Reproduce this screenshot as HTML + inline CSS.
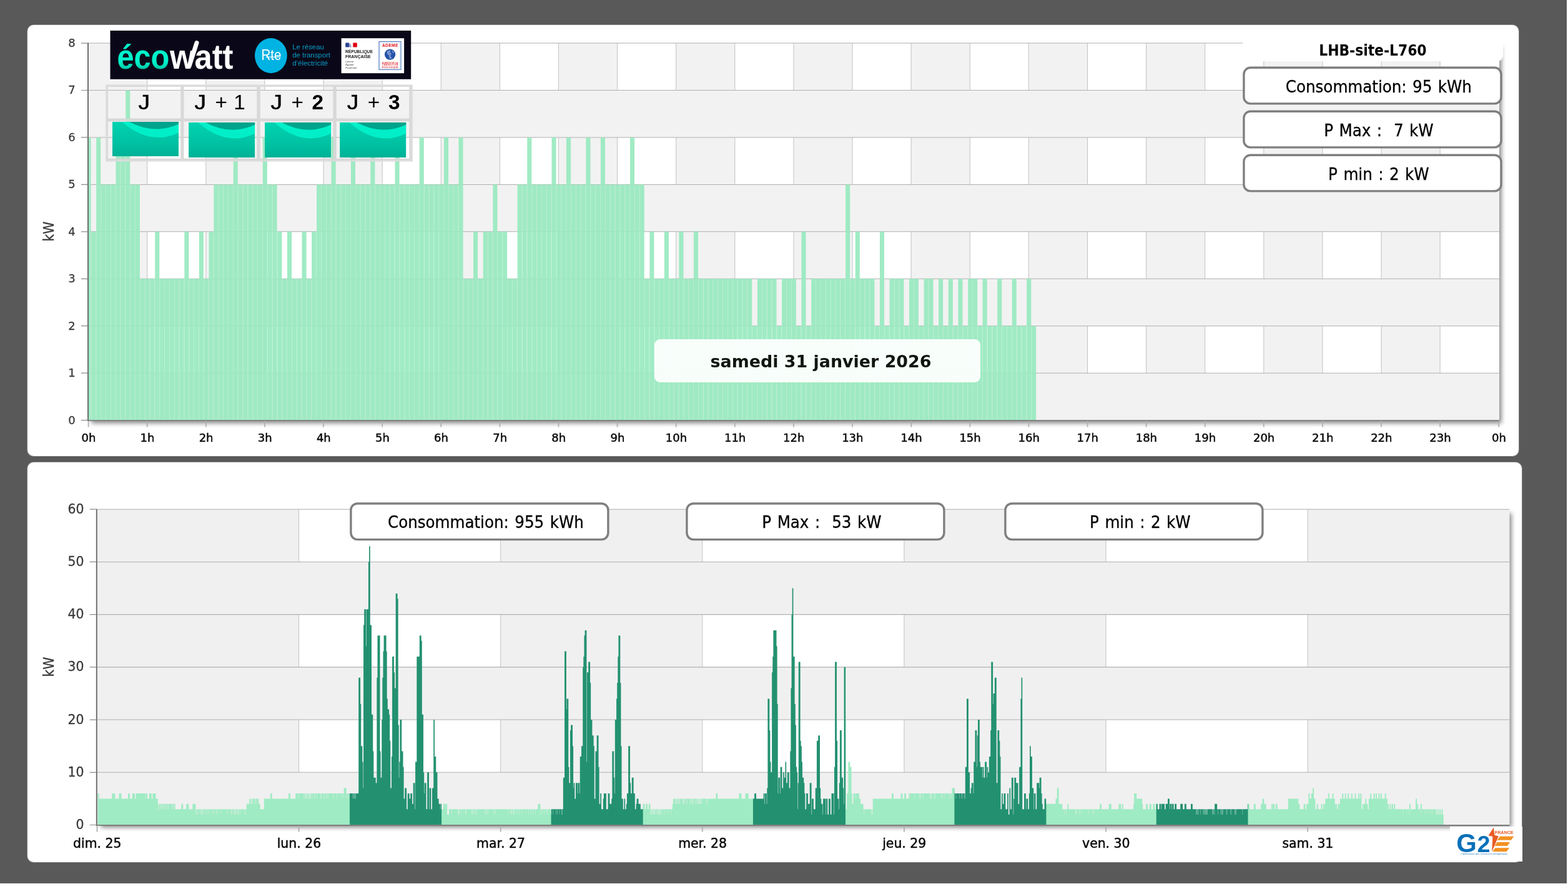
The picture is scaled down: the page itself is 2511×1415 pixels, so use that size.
<!DOCTYPE html>
<html lang="fr"><head><meta charset="utf-8"><title>LHB-site-L760</title>
<style>
*{box-sizing:border-box}
html,body{margin:0;padding:0;background:#fff}
body{width:2511px;height:1415px;position:relative;overflow:hidden;font-family:'DejaVu Sans','Liberation Sans',sans-serif}
.bg{position:absolute;left:0;top:0;width:2509px;height:1413.5px;background:#595959}
.panel{position:absolute;background:#fff;border-radius:10px;box-shadow:0 0 0 .8px rgba(255,255,255,.28)}
#p1{left:43.6px;top:39.6px;width:2388.2px;height:690.7px}
#p2{left:43.6px;top:739.8px;width:2393.2px;height:640.7px}
.plotshadow{position:absolute;box-shadow:3.5px 3.5px 7px rgba(0,0,0,.47)}
svg{position:absolute;left:0;top:0}
.kpi{position:absolute;width:415.4px;height:61px;
 font-family:'DejaVu Sans Condensed','Liberation Sans',sans-serif;font-size:27.3px;word-spacing:1.7px;color:#000;text-align:center;line-height:63.6px;padding-left:20px;white-space:pre;-webkit-text-stroke:.3px #000}
.site{position:absolute;left:1990px;top:55px;width:416.8px;height:43px;background:#fff;border-bottom-right-radius:9px;
 font-family:'DejaVu Sans Condensed','Liberation Sans',sans-serif;font-weight:bold;font-size:24.3px;color:#000;text-align:center;line-height:51.2px;white-space:pre}
.date{position:absolute;left:1048px;top:542.5px;width:522px;height:69.4px;border-radius:9px;background:rgba(255,255,255,.92);
 font-family:'DejaVu Sans','Liberation Sans',sans-serif;font-weight:bold;font-size:26.9px;color:#10150f;text-align:center;line-height:71px;padding-left:11px;white-space:pre}
.logo{position:absolute;left:2322.2px;top:1322.6px;width:115.7px;height:56.8px;background:#fff}
</style></head><body>
<div class="bg"></div>
<div class="panel" id="p1"></div><div class="panel" id="p2"></div>
<div class="plotshadow" style="left:142px;top:71px;width:2259px;height:602.6px"></div>
<div class="plotshadow" style="left:156.5px;top:817.2px;width:2260.7px;height:504.3px"></div>
<svg width="2511" height="1415" viewBox="0 0 2511 1415">
<g id="chart-day">
<rect x="141" y="69" width="2260" height="603.6" fill="#fff"/>
<rect x="141.6" y="69" width="94.11" height="603.6" fill="#f2f2f2"/>
<rect x="329.82" y="69" width="94.11" height="603.6" fill="#f2f2f2"/>
<rect x="518.04" y="69" width="94.11" height="603.6" fill="#f2f2f2"/>
<rect x="706.26" y="69" width="94.11" height="603.6" fill="#f2f2f2"/>
<rect x="894.48" y="69" width="94.11" height="603.6" fill="#f2f2f2"/>
<rect x="1082.7" y="69" width="94.11" height="603.6" fill="#f2f2f2"/>
<rect x="1270.92" y="69" width="94.11" height="603.6" fill="#f2f2f2"/>
<rect x="1459.14" y="69" width="94.11" height="603.6" fill="#f2f2f2"/>
<rect x="1647.36" y="69" width="94.11" height="603.6" fill="#f2f2f2"/>
<rect x="1835.58" y="69" width="94.11" height="603.6" fill="#f2f2f2"/>
<rect x="2023.8" y="69" width="94.11" height="603.6" fill="#f2f2f2"/>
<rect x="2212.02" y="69" width="94.11" height="603.6" fill="#f2f2f2"/>
<path d="M235.71 69V672.6M329.82 69V672.6M423.93 69V672.6M518.04 69V672.6M612.15 69V672.6M706.26 69V672.6M800.37 69V672.6M894.48 69V672.6M988.59 69V672.6M1082.7 69V672.6M1176.81 69V672.6M1270.92 69V672.6M1365.03 69V672.6M1459.14 69V672.6M1553.25 69V672.6M1647.36 69V672.6M1741.47 69V672.6M1835.58 69V672.6M1929.69 69V672.6M2023.8 69V672.6M2117.91 69V672.6M2212.02 69V672.6M2306.13 69V672.6" stroke="#c4c4c4" stroke-width="1.05" fill="none"/>
<rect x="141" y="144.52" width="2260" height="75.44" fill="#f2f2f2"/>
<rect x="141" y="295.4" width="2260" height="75.44" fill="#f2f2f2"/>
<rect x="141" y="446.28" width="2260" height="75.44" fill="#f2f2f2"/>
<rect x="141" y="597.16" width="2260" height="75.44" fill="#f2f2f2"/>
<path d="M141 597.16H2401M141 521.72H2401M141 446.28H2401M141 370.84H2401M141 295.4H2401M141 219.96H2401M141 144.52H2401M141 69.08H2401" stroke="#b0b0b0" stroke-width="1.05" fill="none"/>
<path d="M142 672.6V219.96H145.55V672.6ZM146.3 672.6V370.84H153.39V672.6ZM154.14 672.6V219.96H161.23V672.6ZM161.98 672.6V295.4H169.07V672.6ZM169.82 672.6V295.4H176.92V672.6ZM177.67 672.6V295.4H184.76V672.6ZM185.51 672.6V219.96H192.6V672.6ZM193.35 672.6V219.96H200.44V672.6ZM201.19 672.6V144.52H208.29V672.6ZM209.04 672.6V295.4H216.13V672.6ZM216.88 672.6V295.4H223.97V672.6ZM224.72 672.6V446.28H231.81V672.6ZM232.56 672.6V446.28H239.66V672.6ZM240.41 672.6V446.28H247.5V672.6ZM248.25 672.6V370.84H255.34V672.6ZM256.09 672.6V446.28H263.18V672.6ZM263.93 672.6V446.28H271.03V672.6ZM271.78 672.6V446.28H278.87V672.6ZM279.62 672.6V446.28H286.71V672.6ZM287.46 672.6V446.28H294.55V672.6ZM295.3 672.6V370.84H302.4V672.6ZM303.15 672.6V446.28H310.24V672.6ZM310.99 672.6V446.28H318.08V672.6ZM318.83 672.6V370.84H325.92V672.6ZM326.67 672.6V446.28H333.77V672.6ZM334.52 672.6V370.84H341.61V672.6ZM342.36 672.6V295.4H349.45V672.6ZM350.2 672.6V295.4H357.29V672.6ZM358.04 672.6V295.4H365.14V672.6ZM365.89 672.6V295.4H372.98V672.6ZM373.73 672.6V219.96H380.82V672.6ZM381.57 672.6V295.4H388.66V672.6ZM389.41 672.6V295.4H396.51V672.6ZM397.26 672.6V295.4H404.35V672.6ZM405.1 672.6V295.4H412.19V672.6ZM412.94 672.6V295.4H420.03V672.6ZM420.78 672.6V219.96H427.88V672.6ZM428.63 672.6V295.4H435.72V672.6ZM436.47 672.6V295.4H443.56V672.6ZM444.31 672.6V370.84H451.4V672.6ZM452.15 672.6V446.28H459.25V672.6ZM460 672.6V370.84H467.09V672.6ZM467.84 672.6V446.28H474.93V672.6ZM475.68 672.6V446.28H482.77V672.6ZM483.52 672.6V370.84H490.62V672.6ZM491.37 672.6V446.28H498.46V672.6ZM499.21 672.6V370.84H506.3V672.6ZM507.05 672.6V295.4H514.14V672.6ZM514.89 672.6V295.4H521.99V672.6ZM522.74 672.6V295.4H529.83V672.6ZM530.58 672.6V219.96H537.67V672.6ZM538.42 672.6V295.4H545.51V672.6ZM546.26 672.6V295.4H553.36V672.6ZM554.11 672.6V295.4H561.2V672.6ZM561.95 672.6V219.96H569.04V672.6ZM569.79 672.6V295.4H576.88V672.6ZM577.63 672.6V295.4H584.73V672.6ZM585.48 672.6V295.4H592.57V672.6ZM593.32 672.6V219.96H600.41V672.6ZM601.16 672.6V295.4H608.25V672.6ZM609 672.6V295.4H616.1V672.6ZM616.85 672.6V295.4H623.94V672.6ZM624.69 672.6V295.4H631.78V672.6ZM632.53 672.6V219.96H639.62V672.6ZM640.37 672.6V295.4H647.47V672.6ZM648.22 672.6V295.4H655.31V672.6ZM656.06 672.6V295.4H663.15V672.6ZM663.9 672.6V295.4H670.99V672.6ZM671.74 672.6V219.96H678.84V672.6ZM679.59 672.6V295.4H686.68V672.6ZM687.43 672.6V295.4H694.52V672.6ZM695.27 672.6V295.4H702.36V672.6ZM703.11 672.6V295.4H710.21V672.6ZM710.96 672.6V219.96H718.05V672.6ZM718.8 672.6V295.4H725.89V672.6ZM726.64 672.6V295.4H733.73V672.6ZM734.48 672.6V219.96H741.58V672.6ZM742.33 672.6V446.28H749.42V672.6ZM750.17 672.6V446.28H757.26V672.6ZM758.01 672.6V370.84H765.1V672.6ZM765.85 672.6V446.28H772.95V672.6ZM773.7 672.6V370.84H780.79V672.6ZM781.54 672.6V370.84H788.63V672.6ZM789.38 672.6V295.4H796.47V672.6ZM797.22 672.6V370.84H804.32V672.6ZM805.07 672.6V370.84H812.16V672.6ZM812.91 672.6V446.28H820V672.6ZM820.75 672.6V446.28H827.84V672.6ZM828.59 672.6V295.4H835.69V672.6ZM836.44 672.6V295.4H843.53V672.6ZM844.28 672.6V219.96H851.37V672.6ZM852.12 672.6V295.4H859.21V672.6ZM859.96 672.6V295.4H867.06V672.6ZM867.81 672.6V295.4H874.9V672.6ZM875.65 672.6V295.4H882.74V672.6ZM883.49 672.6V219.96H890.58V672.6ZM891.33 672.6V295.4H898.43V672.6ZM899.18 672.6V295.4H906.27V672.6ZM907.02 672.6V219.96H914.11V672.6ZM914.86 672.6V295.4H921.95V672.6ZM922.7 672.6V295.4H929.8V672.6ZM930.55 672.6V295.4H937.64V672.6ZM938.39 672.6V219.96H945.48V672.6ZM946.23 672.6V295.4H953.32V672.6ZM954.07 672.6V295.4H961.17V672.6ZM961.92 672.6V219.96H969.01V672.6ZM969.76 672.6V295.4H976.85V672.6ZM977.6 672.6V295.4H984.69V672.6ZM985.44 672.6V295.4H992.54V672.6ZM993.29 672.6V295.4H1000.38V672.6ZM1001.13 672.6V295.4H1008.22V672.6ZM1008.97 672.6V219.96H1016.06V672.6ZM1016.81 672.6V295.4H1023.91V672.6ZM1024.66 672.6V295.4H1031.75V672.6ZM1032.5 672.6V446.28H1039.59V672.6ZM1040.34 672.6V370.84H1047.43V672.6ZM1048.18 672.6V446.28H1055.28V672.6ZM1056.03 672.6V446.28H1063.12V672.6ZM1063.87 672.6V370.84H1070.96V672.6ZM1071.71 672.6V446.28H1078.8V672.6ZM1079.55 672.6V446.28H1086.65V672.6ZM1087.4 672.6V370.84H1094.49V672.6ZM1095.24 672.6V446.28H1102.33V672.6ZM1103.08 672.6V446.28H1110.17V672.6ZM1110.92 672.6V370.84H1118.02V672.6ZM1118.77 672.6V446.28H1125.86V672.6ZM1126.61 672.6V446.28H1133.7V672.6ZM1134.45 672.6V446.28H1141.54V672.6ZM1142.29 672.6V446.28H1149.39V672.6ZM1150.14 672.6V446.28H1157.23V672.6ZM1157.98 672.6V446.28H1165.07V672.6ZM1165.82 672.6V446.28H1172.91V672.6ZM1173.66 672.6V446.28H1180.76V672.6ZM1181.51 672.6V446.28H1188.6V672.6ZM1189.35 672.6V446.28H1196.44V672.6ZM1197.19 672.6V446.28H1204.28V672.6ZM1205.03 672.6V521.72H1212.13V672.6ZM1212.88 672.6V446.28H1219.97V672.6ZM1220.72 672.6V446.28H1227.81V672.6ZM1228.56 672.6V446.28H1235.65V672.6ZM1236.4 672.6V446.28H1243.5V672.6ZM1244.25 672.6V521.72H1251.34V672.6ZM1252.09 672.6V446.28H1259.18V672.6ZM1259.93 672.6V446.28H1267.02V672.6ZM1267.77 672.6V446.28H1274.87V672.6ZM1275.62 672.6V521.72H1282.71V672.6ZM1283.46 672.6V370.84H1290.55V672.6ZM1291.3 672.6V521.72H1298.39V672.6ZM1299.14 672.6V446.28H1306.24V672.6ZM1306.99 672.6V446.28H1314.08V672.6ZM1314.83 672.6V446.28H1321.92V672.6ZM1322.67 672.6V446.28H1329.76V672.6ZM1330.51 672.6V446.28H1337.61V672.6ZM1338.36 672.6V446.28H1345.45V672.6ZM1346.2 672.6V446.28H1353.29V672.6ZM1354.04 672.6V295.4H1361.13V672.6ZM1361.88 672.6V446.28H1368.98V672.6ZM1369.73 672.6V370.84H1376.82V672.6ZM1377.57 672.6V446.28H1384.66V672.6ZM1385.41 672.6V446.28H1392.5V672.6ZM1393.25 672.6V446.28H1400.35V672.6ZM1401.1 672.6V521.72H1408.19V672.6ZM1408.94 672.6V370.84H1416.03V672.6ZM1416.78 672.6V521.72H1423.87V672.6ZM1424.62 672.6V446.28H1431.72V672.6ZM1432.47 672.6V446.28H1439.56V672.6ZM1440.31 672.6V446.28H1447.4V672.6ZM1448.15 672.6V521.72H1455.24V672.6ZM1455.99 672.6V446.28H1463.09V672.6ZM1463.84 672.6V446.28H1470.93V672.6ZM1471.68 672.6V521.72H1478.77V672.6ZM1479.52 672.6V446.28H1486.61V672.6ZM1487.36 672.6V446.28H1494.46V672.6ZM1495.21 672.6V521.72H1502.3V672.6ZM1503.05 672.6V446.28H1510.14V672.6ZM1510.89 672.6V521.72H1517.98V672.6ZM1518.73 672.6V446.28H1525.83V672.6ZM1526.58 672.6V521.72H1533.67V672.6ZM1534.42 672.6V446.28H1541.51V672.6ZM1542.26 672.6V521.72H1549.35V672.6ZM1550.1 672.6V446.28H1557.2V672.6ZM1557.95 672.6V446.28H1565.04V672.6ZM1565.79 672.6V521.72H1572.88V672.6ZM1573.63 672.6V446.28H1580.72V672.6ZM1581.47 672.6V521.72H1588.57V672.6ZM1589.32 672.6V521.72H1596.41V672.6ZM1597.16 672.6V446.28H1604.25V672.6ZM1605 672.6V521.72H1612.09V672.6ZM1612.84 672.6V521.72H1619.94V672.6ZM1620.69 672.6V446.28H1627.78V672.6ZM1628.53 672.6V521.72H1635.62V672.6ZM1636.37 672.6V521.72H1643.46V672.6ZM1644.21 672.6V446.28H1651.31V672.6ZM1652.06 672.6V521.72H1659.15V672.6Z" fill="#99e9bf" fill-opacity=".93"/>
<path d="M145.32 672.6V370.84H146.52V672.6ZM153.16 672.6V370.84H154.36V672.6ZM161.01 672.6V295.4H162.21V672.6ZM168.85 672.6V295.4H170.05V672.6ZM176.69 672.6V295.4H177.89V672.6ZM184.53 672.6V295.4H185.73V672.6ZM192.38 672.6V219.96H193.58V672.6ZM200.22 672.6V219.96H201.42V672.6ZM208.06 672.6V295.4H209.26V672.6ZM215.9 672.6V295.4H217.1V672.6ZM223.75 672.6V446.28H224.95V672.6ZM231.59 672.6V446.28H232.79V672.6ZM239.43 672.6V446.28H240.63V672.6ZM247.27 672.6V446.28H248.47V672.6ZM255.12 672.6V446.28H256.32V672.6ZM262.96 672.6V446.28H264.16V672.6ZM270.8 672.6V446.28H272V672.6ZM278.64 672.6V446.28H279.84V672.6ZM286.49 672.6V446.28H287.69V672.6ZM294.33 672.6V446.28H295.53V672.6ZM302.17 672.6V446.28H303.37V672.6ZM310.01 672.6V446.28H311.21V672.6ZM317.86 672.6V446.28H319.06V672.6ZM325.7 672.6V446.28H326.9V672.6ZM333.54 672.6V446.28H334.74V672.6ZM341.38 672.6V370.84H342.58V672.6ZM349.23 672.6V295.4H350.43V672.6ZM357.07 672.6V295.4H358.27V672.6ZM364.91 672.6V295.4H366.11V672.6ZM372.75 672.6V295.4H373.95V672.6ZM380.6 672.6V295.4H381.8V672.6ZM388.44 672.6V295.4H389.64V672.6ZM396.28 672.6V295.4H397.48V672.6ZM404.12 672.6V295.4H405.32V672.6ZM411.97 672.6V295.4H413.17V672.6ZM419.81 672.6V295.4H421.01V672.6ZM427.65 672.6V295.4H428.85V672.6ZM435.49 672.6V295.4H436.69V672.6ZM443.34 672.6V370.84H444.54V672.6ZM451.18 672.6V446.28H452.38V672.6ZM459.02 672.6V446.28H460.22V672.6ZM466.86 672.6V446.28H468.06V672.6ZM474.71 672.6V446.28H475.91V672.6ZM482.55 672.6V446.28H483.75V672.6ZM490.39 672.6V446.28H491.59V672.6ZM498.23 672.6V446.28H499.43V672.6ZM506.08 672.6V370.84H507.28V672.6ZM513.92 672.6V295.4H515.12V672.6ZM521.76 672.6V295.4H522.96V672.6ZM529.6 672.6V295.4H530.8V672.6ZM537.45 672.6V295.4H538.65V672.6ZM545.29 672.6V295.4H546.49V672.6ZM553.13 672.6V295.4H554.33V672.6ZM560.97 672.6V295.4H562.17V672.6ZM568.82 672.6V295.4H570.02V672.6ZM576.66 672.6V295.4H577.86V672.6ZM584.5 672.6V295.4H585.7V672.6ZM592.34 672.6V295.4H593.54V672.6ZM600.19 672.6V295.4H601.39V672.6ZM608.03 672.6V295.4H609.23V672.6ZM615.87 672.6V295.4H617.07V672.6ZM623.71 672.6V295.4H624.91V672.6ZM631.56 672.6V295.4H632.76V672.6ZM639.4 672.6V295.4H640.6V672.6ZM647.24 672.6V295.4H648.44V672.6ZM655.08 672.6V295.4H656.28V672.6ZM662.93 672.6V295.4H664.13V672.6ZM670.77 672.6V295.4H671.97V672.6ZM678.61 672.6V295.4H679.81V672.6ZM686.45 672.6V295.4H687.65V672.6ZM694.3 672.6V295.4H695.5V672.6ZM702.14 672.6V295.4H703.34V672.6ZM709.98 672.6V295.4H711.18V672.6ZM717.82 672.6V295.4H719.02V672.6ZM725.67 672.6V295.4H726.87V672.6ZM733.51 672.6V295.4H734.71V672.6ZM741.35 672.6V446.28H742.55V672.6ZM749.19 672.6V446.28H750.39V672.6ZM757.04 672.6V446.28H758.24V672.6ZM764.88 672.6V446.28H766.08V672.6ZM772.72 672.6V446.28H773.92V672.6ZM780.56 672.6V370.84H781.76V672.6ZM788.41 672.6V370.84H789.61V672.6ZM796.25 672.6V370.84H797.45V672.6ZM804.09 672.6V370.84H805.29V672.6ZM811.93 672.6V446.28H813.13V672.6ZM819.78 672.6V446.28H820.98V672.6ZM827.62 672.6V446.28H828.82V672.6ZM835.46 672.6V295.4H836.66V672.6ZM843.3 672.6V295.4H844.5V672.6ZM851.15 672.6V295.4H852.35V672.6ZM858.99 672.6V295.4H860.19V672.6ZM866.83 672.6V295.4H868.03V672.6ZM874.67 672.6V295.4H875.87V672.6ZM882.52 672.6V295.4H883.72V672.6ZM890.36 672.6V295.4H891.56V672.6ZM898.2 672.6V295.4H899.4V672.6ZM906.04 672.6V295.4H907.24V672.6ZM913.89 672.6V295.4H915.09V672.6ZM921.73 672.6V295.4H922.93V672.6ZM929.57 672.6V295.4H930.77V672.6ZM937.41 672.6V295.4H938.61V672.6ZM945.26 672.6V295.4H946.46V672.6ZM953.1 672.6V295.4H954.3V672.6ZM960.94 672.6V295.4H962.14V672.6ZM968.78 672.6V295.4H969.98V672.6ZM976.63 672.6V295.4H977.83V672.6ZM984.47 672.6V295.4H985.67V672.6ZM992.31 672.6V295.4H993.51V672.6ZM1000.15 672.6V295.4H1001.35V672.6ZM1008 672.6V295.4H1009.2V672.6ZM1015.84 672.6V295.4H1017.04V672.6ZM1023.68 672.6V295.4H1024.88V672.6ZM1031.52 672.6V446.28H1032.72V672.6ZM1039.37 672.6V446.28H1040.57V672.6ZM1047.21 672.6V446.28H1048.41V672.6ZM1055.05 672.6V446.28H1056.25V672.6ZM1062.89 672.6V446.28H1064.09V672.6ZM1070.74 672.6V446.28H1071.94V672.6ZM1078.58 672.6V446.28H1079.78V672.6ZM1086.42 672.6V446.28H1087.62V672.6ZM1094.26 672.6V446.28H1095.46V672.6ZM1102.11 672.6V446.28H1103.31V672.6ZM1109.95 672.6V446.28H1111.15V672.6ZM1117.79 672.6V446.28H1118.99V672.6ZM1125.63 672.6V446.28H1126.83V672.6ZM1133.48 672.6V446.28H1134.68V672.6ZM1141.32 672.6V446.28H1142.52V672.6ZM1149.16 672.6V446.28H1150.36V672.6ZM1157 672.6V446.28H1158.2V672.6ZM1164.85 672.6V446.28H1166.05V672.6ZM1172.69 672.6V446.28H1173.89V672.6ZM1180.53 672.6V446.28H1181.73V672.6ZM1188.37 672.6V446.28H1189.57V672.6ZM1196.22 672.6V446.28H1197.42V672.6ZM1204.06 672.6V521.72H1205.26V672.6ZM1211.9 672.6V521.72H1213.1V672.6ZM1219.74 672.6V446.28H1220.94V672.6ZM1227.59 672.6V446.28H1228.79V672.6ZM1235.43 672.6V446.28H1236.63V672.6ZM1243.27 672.6V521.72H1244.47V672.6ZM1251.11 672.6V521.72H1252.31V672.6ZM1258.96 672.6V446.28H1260.16V672.6ZM1266.8 672.6V446.28H1268V672.6ZM1274.64 672.6V521.72H1275.84V672.6ZM1282.48 672.6V521.72H1283.68V672.6ZM1290.33 672.6V521.72H1291.53V672.6ZM1298.17 672.6V521.72H1299.37V672.6ZM1306.01 672.6V446.28H1307.21V672.6ZM1313.85 672.6V446.28H1315.05V672.6ZM1321.7 672.6V446.28H1322.9V672.6ZM1329.54 672.6V446.28H1330.74V672.6ZM1337.38 672.6V446.28H1338.58V672.6ZM1345.22 672.6V446.28H1346.42V672.6ZM1353.07 672.6V446.28H1354.27V672.6ZM1360.91 672.6V446.28H1362.11V672.6ZM1368.75 672.6V446.28H1369.95V672.6ZM1376.59 672.6V446.28H1377.79V672.6ZM1384.44 672.6V446.28H1385.64V672.6ZM1392.28 672.6V446.28H1393.48V672.6ZM1400.12 672.6V521.72H1401.32V672.6ZM1407.96 672.6V521.72H1409.16V672.6ZM1415.81 672.6V521.72H1417.01V672.6ZM1423.65 672.6V521.72H1424.85V672.6ZM1431.49 672.6V446.28H1432.69V672.6ZM1439.33 672.6V446.28H1440.53V672.6ZM1447.18 672.6V521.72H1448.38V672.6ZM1455.02 672.6V521.72H1456.22V672.6ZM1462.86 672.6V446.28H1464.06V672.6ZM1470.7 672.6V521.72H1471.9V672.6ZM1478.55 672.6V521.72H1479.75V672.6ZM1486.39 672.6V446.28H1487.59V672.6ZM1494.23 672.6V521.72H1495.43V672.6ZM1502.07 672.6V521.72H1503.27V672.6ZM1509.92 672.6V521.72H1511.12V672.6ZM1517.76 672.6V521.72H1518.96V672.6ZM1525.6 672.6V521.72H1526.8V672.6ZM1533.44 672.6V521.72H1534.64V672.6ZM1541.29 672.6V521.72H1542.49V672.6ZM1549.13 672.6V521.72H1550.33V672.6ZM1556.97 672.6V446.28H1558.17V672.6ZM1564.81 672.6V521.72H1566.01V672.6ZM1572.66 672.6V521.72H1573.86V672.6ZM1580.5 672.6V521.72H1581.7V672.6ZM1588.34 672.6V521.72H1589.54V672.6ZM1596.18 672.6V521.72H1597.38V672.6ZM1604.03 672.6V521.72H1605.23V672.6ZM1611.87 672.6V521.72H1613.07V672.6ZM1619.71 672.6V521.72H1620.91V672.6ZM1627.55 672.6V521.72H1628.75V672.6ZM1635.4 672.6V521.72H1636.6V672.6ZM1643.24 672.6V521.72H1644.44V672.6ZM1651.08 672.6V521.72H1652.28V672.6Z" fill="#99e9bf" fill-opacity=".55"/>
<rect x="140" y="68.5" width="2" height="605.1" fill="#6f6f6f"/>
<rect x="140" y="672.3" width="2261" height="1.6" fill="#6f6f6f"/>
<path d="M130 672.6H140M130 597.16H140M130 521.72H140M130 446.28H140M130 370.84H140M130 295.4H140M130 219.96H140M130 144.52H140M130 69.08H140" stroke="#8a8a8a" stroke-width="1.2" fill="none"/>
<path d="M141.6 673.8V683.6M235.71 673.8V683.6M329.82 673.8V683.6M423.93 673.8V683.6M518.04 673.8V683.6M612.15 673.8V683.6M706.26 673.8V683.6M800.37 673.8V683.6M894.48 673.8V683.6M988.59 673.8V683.6M1082.7 673.8V683.6M1176.81 673.8V683.6M1270.92 673.8V683.6M1365.03 673.8V683.6M1459.14 673.8V683.6M1553.25 673.8V683.6M1647.36 673.8V683.6M1741.47 673.8V683.6M1835.58 673.8V683.6M1929.69 673.8V683.6M2023.8 673.8V683.6M2117.91 673.8V683.6M2212.02 673.8V683.6M2306.13 673.8V683.6M2400.24 673.8V683.6" stroke="#b0b0b0" stroke-width="1.8" fill="none"/>
<g font-family="'DejaVu Sans','Liberation Sans',sans-serif" font-size="18" fill="#3a3a3a" stroke="#3a3a3a" stroke-width=".3" text-anchor="end">
<text x="120.6" y="678.5">0</text>
<text x="120.6" y="603.06">1</text>
<text x="120.6" y="527.62">2</text>
<text x="120.6" y="452.18">3</text>
<text x="120.6" y="376.74">4</text>
<text x="120.6" y="301.3">5</text>
<text x="120.6" y="225.86">6</text>
<text x="120.6" y="150.42">7</text>
<text x="120.6" y="74.98">8</text>
</g>
<g font-family="'DejaVu Sans','Liberation Sans',sans-serif" font-size="18" fill="#0a0a0a" stroke="#0a0a0a" stroke-width=".5" text-anchor="middle">
<text x="141.9" y="707">0h</text>
<text x="236.01" y="707">1h</text>
<text x="330.12" y="707">2h</text>
<text x="424.23" y="707">3h</text>
<text x="518.34" y="707">4h</text>
<text x="612.45" y="707">5h</text>
<text x="706.56" y="707">6h</text>
<text x="800.67" y="707">7h</text>
<text x="894.78" y="707">8h</text>
<text x="988.89" y="707">9h</text>
<text x="1083" y="707">10h</text>
<text x="1177.11" y="707">11h</text>
<text x="1271.22" y="707">12h</text>
<text x="1365.33" y="707">13h</text>
<text x="1459.44" y="707">14h</text>
<text x="1553.55" y="707">15h</text>
<text x="1647.66" y="707">16h</text>
<text x="1741.77" y="707">17h</text>
<text x="1835.88" y="707">18h</text>
<text x="1929.99" y="707">19h</text>
<text x="2024.1" y="707">20h</text>
<text x="2118.21" y="707">21h</text>
<text x="2212.32" y="707">22h</text>
<text x="2306.43" y="707">23h</text>
<text x="2400.54" y="707">0h</text>
</g>
<text transform="translate(86.1 370.6) rotate(-90)" font-family="'DejaVu Sans Condensed','Liberation Sans',sans-serif" font-size="22.6" fill="#3a3a3a" stroke="#3a3a3a" stroke-width=".35" text-anchor="middle">kW</text>
</g>
<g id="chart-week">
<rect x="155.5" y="815.2" width="2261.7" height="505.3" fill="#fff"/>
<rect x="155.5" y="815.2" width="323.1" height="505.3" fill="#f0f0f0"/>
<rect x="801.7" y="815.2" width="323.1" height="505.3" fill="#f0f0f0"/>
<rect x="1447.9" y="815.2" width="323.1" height="505.3" fill="#f0f0f0"/>
<rect x="2094.1" y="815.2" width="323.1" height="505.3" fill="#f0f0f0"/>
<path d="M478.6 815.2V1320.5M801.7 815.2V1320.5M1124.8 815.2V1320.5M1447.9 815.2V1320.5M1771 815.2V1320.5M2094.1 815.2V1320.5" stroke="#c4c4c4" stroke-width="1.05" fill="none"/>
<rect x="155.5" y="899.42" width="2261.7" height="84.22" fill="#f0f0f0"/>
<rect x="155.5" y="1067.85" width="2261.7" height="84.22" fill="#f0f0f0"/>
<rect x="155.5" y="1236.28" width="2261.7" height="84.22" fill="#f0f0f0"/>
<path d="M155.5 1236.28H2417.2M155.5 1152.07H2417.2M155.5 1067.85H2417.2M155.5 983.63H2417.2M155.5 899.42H2417.2M155.5 815.2H2417.2" stroke="#b0b0b0" stroke-width="1.05" fill="none"/>
<clipPath id="dk"><rect x="560" y="813.2" width="147.1" height="507.3"/><rect x="882.5" y="813.2" width="147.2" height="507.3"/><rect x="1205.9" y="813.2" width="148.1" height="507.3"/><rect x="1528.4" y="813.2" width="147" height="507.3"/><rect x="1851.7" y="813.2" width="146.8" height="507.3"/></clipPath>
<path d="M156.5 1320.5V1269.97H158.6V1320.5ZM158.3 1320.5V1278.39H179.62V1320.5ZM179.32 1320.5V1269.97H184.41V1320.5ZM184.11 1320.5V1278.39H190.84V1320.5ZM190.54 1320.5V1269.97H194.5V1320.5ZM194.2 1320.5V1278.39H205.42V1320.5ZM205.12 1320.5V1269.97H207.97V1320.5ZM207.67 1320.5V1278.39H212.15V1320.5ZM211.85 1320.5V1269.97H215.82V1320.5ZM215.52 1320.5V1278.39H217.76V1320.5ZM217.46 1320.5V1269.97H232.65V1320.5ZM232.35 1320.5V1278.39H233.47V1320.5ZM233.17 1320.5V1269.97H236.01V1320.5ZM235.71 1320.5V1278.39H239.08V1320.5ZM238.78 1320.5V1269.97H242.75V1320.5ZM242.45 1320.5V1278.39H244.69V1320.5ZM244.39 1320.5V1269.97H249.48V1320.5ZM249.18 1320.5V1278.39H252.84V1320.5ZM252.54 1320.5V1286.81H280.89V1320.5ZM280.59 1320.5V1295.23H290.69V1320.5ZM290.39 1320.5V1286.81H293.23V1320.5ZM292.93 1320.5V1295.23H298.54V1320.5ZM298.24 1320.5V1286.81H302.2V1320.5ZM301.9 1320.5V1295.23H308.64V1320.5ZM308.34 1320.5V1286.81H313.42V1320.5ZM313.12 1320.5V1295.23H395.02V1320.5ZM394.72 1320.5V1286.81H399.51V1320.5ZM399.21 1320.5V1278.39H414.39V1320.5ZM414.09 1320.5V1286.81H416.64V1320.5ZM416.34 1320.5V1295.23H423.07V1320.5ZM422.77 1320.5V1278.39H433.16V1320.5ZM432.86 1320.5V1269.97H435.71V1320.5ZM435.41 1320.5V1278.39H462.33V1320.5ZM462.03 1320.5V1269.97H464.88V1320.5ZM464.58 1320.5V1278.39H473.55V1320.5ZM473.25 1320.5V1269.97H550.96V1320.5ZM550.66 1320.5V1261.55H554.63V1320.5ZM554.33 1320.5V1269.97H574.52V1320.5ZM705.48 1320.5V1286.81H707.2V1320.5ZM706.9 1320.5V1295.23H710.27V1320.5ZM709.97 1320.5V1286.81H716.18V1320.5ZM715.88 1320.5V1303.66H719.24V1320.5ZM718.94 1320.5V1295.23H861.72V1320.5ZM861.42 1320.5V1286.81H865.39V1320.5ZM865.09 1320.5V1295.23H902.11V1320.5ZM1025.51 1320.5V1295.23H1030V1320.5ZM1029.7 1320.5V1286.81H1032.55V1320.5ZM1032.25 1320.5V1295.23H1034.49V1320.5ZM1034.19 1320.5V1286.81H1037.03V1320.5ZM1036.73 1320.5V1295.23H1038.98V1320.5ZM1038.68 1320.5V1286.81H1041.52V1320.5ZM1041.22 1320.5V1295.23H1077.12V1320.5ZM1076.82 1320.5V1286.81H1078.24V1320.5ZM1077.94 1320.5V1278.39H1146.68V1320.5ZM1146.38 1320.5V1269.97H1149.22V1320.5ZM1148.92 1320.5V1278.39H1183.7V1320.5ZM1183.4 1320.5V1269.97H1187.36V1320.5ZM1187.06 1320.5V1278.39H1193.8V1320.5ZM1193.5 1320.5V1269.97H1198.58V1320.5ZM1198.28 1320.5V1278.39H1208.38V1320.5ZM1351.68 1320.5V1067.85H1354.52V1320.5ZM1354.22 1320.5V1295.23H1356.47V1320.5ZM1356.17 1320.5V1269.97H1358.71V1320.5ZM1358.41 1320.5V1219.44H1361.25V1320.5ZM1360.95 1320.5V1227.86H1363.5V1320.5ZM1363.2 1320.5V1269.97H1364.62V1320.5ZM1364.32 1320.5V1286.81H1366.56V1320.5ZM1366.26 1320.5V1269.97H1375.84V1320.5ZM1375.54 1320.5V1278.39H1378.08V1320.5ZM1377.78 1320.5V1286.81H1382.57V1320.5ZM1382.27 1320.5V1295.23H1397.98V1320.5ZM1397.68 1320.5V1278.39H1428.27V1320.5ZM1427.97 1320.5V1269.97H1430.81V1320.5ZM1430.51 1320.5V1278.39H1442.85V1320.5ZM1442.55 1320.5V1269.97H1445.4V1320.5ZM1445.1 1320.5V1278.39H1448.46V1320.5ZM1448.16 1320.5V1269.97H1451V1320.5ZM1450.7 1320.5V1278.39H1455.19V1320.5ZM1454.89 1320.5V1269.97H1524.75V1320.5ZM1524.45 1320.5V1261.55H1528.41V1320.5ZM1528.11 1320.5V1269.97H1546.06V1320.5ZM1675.08 1320.5V1286.81H1690.79V1320.5ZM1690.49 1320.5V1278.39H1693.03V1320.5ZM1692.73 1320.5V1261.55H1695.57V1320.5ZM1695.27 1320.5V1286.81H1701.18V1320.5ZM1700.88 1320.5V1295.23H1709.86V1320.5ZM1709.56 1320.5V1286.81H1711.28V1320.5ZM1710.98 1320.5V1295.23H1761.46V1320.5ZM1761.16 1320.5V1286.81H1764.01V1320.5ZM1763.71 1320.5V1295.23H1776.05V1320.5ZM1775.75 1320.5V1286.81H1779.71V1320.5ZM1779.41 1320.5V1295.23H1791.75V1320.5ZM1791.45 1320.5V1286.81H1795.42V1320.5ZM1795.12 1320.5V1295.23H1797.36V1320.5ZM1797.06 1320.5V1286.81H1798.79V1320.5ZM1798.49 1320.5V1295.23H1815.31V1320.5ZM1815.01 1320.5V1286.81H1816.44V1320.5ZM1816.14 1320.5V1269.97H1820.1V1320.5ZM1819.8 1320.5V1278.39H1829.08V1320.5ZM1828.78 1320.5V1286.81H1830.2V1320.5ZM1829.9 1320.5V1295.23H1835.51V1320.5ZM1835.21 1320.5V1286.81H1838.05V1320.5ZM1837.75 1320.5V1295.23H1841.12V1320.5ZM1840.82 1320.5V1286.81H1843.66V1320.5ZM1843.36 1320.5V1295.23H1846.73V1320.5ZM1846.43 1320.5V1286.81H1849.27V1320.5ZM1848.97 1320.5V1295.23H1851.21V1320.5ZM1850.91 1320.5V1286.81H1853.76V1320.5ZM1997.88 1320.5V1286.81H2000.72V1320.5ZM2000.42 1320.5V1295.23H2008.28V1320.5ZM2007.98 1320.5V1286.81H2010.82V1320.5ZM2010.52 1320.5V1295.23H2019.5V1320.5ZM2019.2 1320.5V1286.81H2021.74V1320.5ZM2021.44 1320.5V1278.39H2024.28V1320.5ZM2023.98 1320.5V1286.81H2027.65V1320.5ZM2027.35 1320.5V1295.23H2036.32V1320.5ZM2036.02 1320.5V1286.81H2037.75V1320.5ZM2037.45 1320.5V1295.23H2038.57V1320.5ZM2038.27 1320.5V1286.81H2041.11V1320.5ZM2040.81 1320.5V1295.23H2043.05V1320.5ZM2042.75 1320.5V1286.81H2045.6V1320.5ZM2045.3 1320.5V1295.23H2063.25V1320.5ZM2062.95 1320.5V1278.39H2079.25V1320.5ZM2078.95 1320.5V1286.81H2081.5V1320.5ZM2081.2 1320.5V1295.23H2087.93V1320.5ZM2087.63 1320.5V1286.81H2090.47V1320.5ZM2090.17 1320.5V1295.23H2092.42V1320.5ZM2092.12 1320.5V1286.81H2093.54V1320.5Z" fill="#9febc3"/>
<path d="M2093.1 1320.5V1286.81H2095.1V1320.5ZM2094.22 1320.5V1286.81H2096.22V1320.5ZM2095.34 1320.5V1269.97H2097.34V1320.5ZM2096.47 1320.5V1278.39H2098.47V1320.5ZM2097.59 1320.5V1278.39H2099.59V1320.5ZM2098.71 1320.5V1278.39H2100.71V1320.5ZM2099.83 1320.5V1269.97H2101.83V1320.5ZM2100.95 1320.5V1269.97H2102.95V1320.5ZM2102.07 1320.5V1261.55H2104.07V1320.5ZM2103.2 1320.5V1278.39H2105.2V1320.5ZM2104.32 1320.5V1278.39H2106.32V1320.5ZM2105.44 1320.5V1295.23H2107.44V1320.5ZM2106.56 1320.5V1295.23H2108.56V1320.5ZM2107.68 1320.5V1295.23H2109.68V1320.5ZM2108.81 1320.5V1286.81H2110.81V1320.5ZM2109.93 1320.5V1295.23H2111.93V1320.5ZM2111.05 1320.5V1295.23H2113.05V1320.5ZM2112.17 1320.5V1295.23H2114.17V1320.5ZM2113.29 1320.5V1295.23H2115.29V1320.5ZM2114.42 1320.5V1295.23H2116.42V1320.5ZM2115.54 1320.5V1286.81H2117.54V1320.5ZM2116.66 1320.5V1295.23H2118.66V1320.5ZM2117.78 1320.5V1295.23H2119.78V1320.5ZM2118.9 1320.5V1286.81H2120.9V1320.5ZM2120.03 1320.5V1295.23H2122.03V1320.5ZM2121.15 1320.5V1286.81H2123.15V1320.5ZM2122.27 1320.5V1278.39H2124.27V1320.5ZM2123.39 1320.5V1278.39H2125.39V1320.5ZM2124.51 1320.5V1278.39H2126.51V1320.5ZM2125.63 1320.5V1278.39H2127.63V1320.5ZM2126.76 1320.5V1269.97H2128.76V1320.5ZM2127.88 1320.5V1278.39H2129.88V1320.5ZM2129 1320.5V1278.39H2131V1320.5ZM2130.12 1320.5V1278.39H2132.12V1320.5ZM2131.24 1320.5V1278.39H2133.24V1320.5ZM2132.37 1320.5V1278.39H2134.37V1320.5ZM2133.49 1320.5V1269.97H2135.49V1320.5ZM2134.61 1320.5V1278.39H2136.61V1320.5ZM2135.73 1320.5V1278.39H2137.73V1320.5ZM2136.85 1320.5V1286.81H2138.85V1320.5ZM2137.97 1320.5V1295.23H2139.97V1320.5ZM2139.1 1320.5V1286.81H2141.1V1320.5ZM2140.22 1320.5V1295.23H2142.22V1320.5ZM2141.34 1320.5V1295.23H2143.34V1320.5ZM2142.46 1320.5V1286.81H2144.46V1320.5ZM2143.58 1320.5V1295.23H2145.58V1320.5ZM2144.71 1320.5V1286.81H2146.71V1320.5ZM2145.83 1320.5V1278.39H2147.83V1320.5ZM2146.95 1320.5V1278.39H2148.95V1320.5ZM2148.07 1320.5V1278.39H2150.07V1320.5ZM2149.19 1320.5V1269.97H2151.19V1320.5ZM2150.32 1320.5V1278.39H2152.32V1320.5ZM2151.44 1320.5V1278.39H2153.44V1320.5ZM2152.56 1320.5V1278.39H2154.56V1320.5ZM2153.68 1320.5V1269.97H2155.68V1320.5ZM2154.8 1320.5V1278.39H2156.8V1320.5ZM2155.92 1320.5V1278.39H2157.92V1320.5ZM2157.05 1320.5V1278.39H2159.05V1320.5ZM2158.17 1320.5V1269.97H2160.17V1320.5ZM2159.29 1320.5V1278.39H2161.29V1320.5ZM2160.41 1320.5V1278.39H2162.41V1320.5ZM2161.53 1320.5V1278.39H2163.53V1320.5ZM2162.66 1320.5V1278.39H2164.66V1320.5ZM2163.78 1320.5V1269.97H2165.78V1320.5ZM2164.9 1320.5V1278.39H2166.9V1320.5ZM2166.02 1320.5V1278.39H2168.02V1320.5ZM2167.14 1320.5V1278.39H2169.14V1320.5ZM2168.27 1320.5V1278.39H2170.27V1320.5ZM2169.39 1320.5V1269.97H2171.39V1320.5ZM2170.51 1320.5V1278.39H2172.51V1320.5ZM2171.63 1320.5V1278.39H2173.63V1320.5ZM2172.75 1320.5V1278.39H2174.75V1320.5ZM2173.88 1320.5V1278.39H2175.88V1320.5ZM2175 1320.5V1269.97H2177V1320.5ZM2176.12 1320.5V1278.39H2178.12V1320.5ZM2177.24 1320.5V1278.39H2179.24V1320.5ZM2178.36 1320.5V1269.97H2180.36V1320.5ZM2179.48 1320.5V1295.23H2181.48V1320.5ZM2180.61 1320.5V1295.23H2182.61V1320.5ZM2181.73 1320.5V1286.81H2183.73V1320.5ZM2182.85 1320.5V1295.23H2184.85V1320.5ZM2183.97 1320.5V1286.81H2185.97V1320.5ZM2185.09 1320.5V1286.81H2187.09V1320.5ZM2186.22 1320.5V1278.39H2188.22V1320.5ZM2187.34 1320.5V1286.81H2189.34V1320.5ZM2188.46 1320.5V1286.81H2190.46V1320.5ZM2189.58 1320.5V1295.23H2191.58V1320.5ZM2190.7 1320.5V1295.23H2192.7V1320.5ZM2191.82 1320.5V1278.39H2193.82V1320.5ZM2192.95 1320.5V1278.39H2194.95V1320.5ZM2194.07 1320.5V1269.97H2196.07V1320.5ZM2195.19 1320.5V1278.39H2197.19V1320.5ZM2196.31 1320.5V1278.39H2198.31V1320.5ZM2197.43 1320.5V1278.39H2199.43V1320.5ZM2198.56 1320.5V1278.39H2200.56V1320.5ZM2199.68 1320.5V1269.97H2201.68V1320.5ZM2200.8 1320.5V1278.39H2202.8V1320.5ZM2201.92 1320.5V1278.39H2203.92V1320.5ZM2203.04 1320.5V1269.97H2205.04V1320.5ZM2204.17 1320.5V1278.39H2206.17V1320.5ZM2205.29 1320.5V1278.39H2207.29V1320.5ZM2206.41 1320.5V1278.39H2208.41V1320.5ZM2207.53 1320.5V1269.97H2209.53V1320.5ZM2208.65 1320.5V1278.39H2210.65V1320.5ZM2209.78 1320.5V1278.39H2211.78V1320.5ZM2210.9 1320.5V1269.97H2212.9V1320.5ZM2212.02 1320.5V1278.39H2214.02V1320.5ZM2213.14 1320.5V1278.39H2215.14V1320.5ZM2214.26 1320.5V1278.39H2216.26V1320.5ZM2215.38 1320.5V1278.39H2217.38V1320.5ZM2216.51 1320.5V1278.39H2218.51V1320.5ZM2217.63 1320.5V1269.97H2219.63V1320.5ZM2218.75 1320.5V1278.39H2220.75V1320.5ZM2219.87 1320.5V1278.39H2221.87V1320.5ZM2220.99 1320.5V1295.23H2222.99V1320.5ZM2222.12 1320.5V1286.81H2224.12V1320.5ZM2223.24 1320.5V1295.23H2225.24V1320.5ZM2224.36 1320.5V1295.23H2226.36V1320.5ZM2225.48 1320.5V1286.81H2227.48V1320.5ZM2226.6 1320.5V1295.23H2228.6V1320.5ZM2227.72 1320.5V1295.23H2229.72V1320.5ZM2228.85 1320.5V1286.81H2230.85V1320.5ZM2229.97 1320.5V1295.23H2231.97V1320.5ZM2231.09 1320.5V1295.23H2233.09V1320.5ZM2232.21 1320.5V1286.81H2234.21V1320.5ZM2233.33 1320.5V1295.23H2235.33V1320.5ZM2234.46 1320.5V1295.23H2236.46V1320.5ZM2235.58 1320.5V1295.23H2237.58V1320.5ZM2236.7 1320.5V1295.23H2238.7V1320.5ZM2237.82 1320.5V1295.23H2239.82V1320.5ZM2238.94 1320.5V1295.23H2240.94V1320.5ZM2240.07 1320.5V1295.23H2242.07V1320.5ZM2241.19 1320.5V1295.23H2243.19V1320.5ZM2242.31 1320.5V1295.23H2244.31V1320.5ZM2243.43 1320.5V1295.23H2245.43V1320.5ZM2244.55 1320.5V1295.23H2246.55V1320.5ZM2245.67 1320.5V1303.66H2247.67V1320.5ZM2246.8 1320.5V1295.23H2248.8V1320.5ZM2247.92 1320.5V1295.23H2249.92V1320.5ZM2249.04 1320.5V1295.23H2251.04V1320.5ZM2250.16 1320.5V1295.23H2252.16V1320.5ZM2251.28 1320.5V1303.66H2253.28V1320.5ZM2252.41 1320.5V1295.23H2254.41V1320.5ZM2253.53 1320.5V1295.23H2255.53V1320.5ZM2254.65 1320.5V1295.23H2256.65V1320.5ZM2255.77 1320.5V1303.66H2257.77V1320.5ZM2256.89 1320.5V1286.81H2258.89V1320.5ZM2258.02 1320.5V1303.66H2260.02V1320.5ZM2259.14 1320.5V1295.23H2261.14V1320.5ZM2260.26 1320.5V1295.23H2262.26V1320.5ZM2261.38 1320.5V1295.23H2263.38V1320.5ZM2262.5 1320.5V1295.23H2264.5V1320.5ZM2263.62 1320.5V1295.23H2265.62V1320.5ZM2264.75 1320.5V1295.23H2266.75V1320.5ZM2265.87 1320.5V1295.23H2267.87V1320.5ZM2266.99 1320.5V1278.39H2268.99V1320.5ZM2268.11 1320.5V1295.23H2270.11V1320.5ZM2269.23 1320.5V1286.81H2271.23V1320.5ZM2270.36 1320.5V1295.23H2272.36V1320.5ZM2271.48 1320.5V1295.23H2273.48V1320.5ZM2272.6 1320.5V1295.23H2274.6V1320.5ZM2273.72 1320.5V1303.66H2275.72V1320.5ZM2274.84 1320.5V1286.81H2276.84V1320.5ZM2275.97 1320.5V1303.66H2277.97V1320.5ZM2277.09 1320.5V1295.23H2279.09V1320.5ZM2278.21 1320.5V1295.23H2280.21V1320.5ZM2279.33 1320.5V1295.23H2281.33V1320.5ZM2280.45 1320.5V1303.66H2282.45V1320.5ZM2281.57 1320.5V1295.23H2283.57V1320.5ZM2282.7 1320.5V1295.23H2284.7V1320.5ZM2283.82 1320.5V1303.66H2285.82V1320.5ZM2284.94 1320.5V1295.23H2286.94V1320.5ZM2286.06 1320.5V1295.23H2288.06V1320.5ZM2287.18 1320.5V1303.66H2289.18V1320.5ZM2288.31 1320.5V1295.23H2290.31V1320.5ZM2289.43 1320.5V1303.66H2291.43V1320.5ZM2290.55 1320.5V1295.23H2292.55V1320.5ZM2291.67 1320.5V1303.66H2293.67V1320.5ZM2292.79 1320.5V1295.23H2294.79V1320.5ZM2293.92 1320.5V1303.66H2295.92V1320.5ZM2295.04 1320.5V1295.23H2297.04V1320.5ZM2296.16 1320.5V1295.23H2298.16V1320.5ZM2297.28 1320.5V1303.66H2299.28V1320.5ZM2298.4 1320.5V1295.23H2300.4V1320.5ZM2299.53 1320.5V1303.66H2301.53V1320.5ZM2300.65 1320.5V1303.66H2302.65V1320.5ZM2301.77 1320.5V1295.23H2303.77V1320.5ZM2302.89 1320.5V1303.66H2304.89V1320.5ZM2304.01 1320.5V1303.66H2306.01V1320.5ZM2305.13 1320.5V1295.23H2307.13V1320.5ZM2306.26 1320.5V1303.66H2308.26V1320.5ZM2307.38 1320.5V1303.66H2309.38V1320.5ZM2308.5 1320.5V1295.23H2310.5V1320.5ZM2309.62 1320.5V1303.66H2311.62V1320.5Z" fill="#9febc3"/>
<path d="M554.33 1320.5V1269.97H574.52V1320.5ZM574.22 1320.5V1084.69H577.06V1320.5ZM576.76 1320.5V1126.8H578.19V1320.5ZM577.89 1320.5V1194.17H580.43V1320.5ZM580.13 1320.5V1219.44H581.55V1320.5ZM581.25 1320.5V1261.55H582.37V1320.5ZM582.07 1320.5V1000.48H583.5V1320.5ZM583.2 1320.5V975.21H586.04V1320.5ZM585.74 1320.5V1034.16H586.86V1320.5ZM586.56 1320.5V975.21H590.23V1320.5ZM589.93 1320.5V899.42H591.35V1320.5ZM591.05 1320.5V874.15H592.77V1320.5ZM592.47 1320.5V1000.48H595.01V1320.5ZM594.71 1320.5V1143.64H597.26V1320.5ZM596.96 1320.5V1202.6H598.38V1320.5ZM598.08 1320.5V1244.7H601.75V1320.5ZM601.45 1320.5V1253.13H603.69V1320.5ZM603.39 1320.5V1084.69H604.81V1320.5ZM604.51 1320.5V1017.32H608.48V1320.5ZM608.18 1320.5V1202.6H609.6V1320.5ZM609.3 1320.5V1244.7H611.54V1320.5ZM611.24 1320.5V1152.07H612.66V1320.5ZM612.36 1320.5V1084.69H613.79V1320.5ZM613.49 1320.5V1042.59H614.91V1320.5ZM614.61 1320.5V1017.32H618.57V1320.5ZM618.27 1320.5V1042.59H619.7V1320.5ZM619.4 1320.5V1118.38H620.82V1320.5ZM620.52 1320.5V1135.22H623.06V1320.5ZM622.76 1320.5V1143.64H624.18V1320.5ZM623.88 1320.5V1185.75H625.3V1320.5ZM625 1320.5V1261.55H627.25V1320.5ZM626.95 1320.5V1211.02H628.37V1320.5ZM628.07 1320.5V1051.01H630.91V1320.5ZM630.61 1320.5V1076.27H632.04V1320.5ZM631.74 1320.5V1101.54H633.98V1320.5ZM633.68 1320.5V949.95H636.52V1320.5ZM636.22 1320.5V958.37H637.65V1320.5ZM637.35 1320.5V1160.49H638.77V1320.5ZM638.47 1320.5V1244.7H639.59V1320.5ZM639.29 1320.5V1219.44H640.71V1320.5ZM640.41 1320.5V1152.07H643.25V1320.5ZM642.95 1320.5V1202.6H645.5V1320.5ZM645.2 1320.5V1227.86H646.62V1320.5ZM646.32 1320.5V1278.39H648.56V1320.5ZM648.26 1320.5V1261.55H651.11V1320.5ZM650.81 1320.5V1295.23H653.05V1320.5ZM652.75 1320.5V1269.97H655.6V1320.5ZM655.3 1320.5V1278.39H657.54V1320.5ZM657.24 1320.5V1269.97H660.08V1320.5ZM659.78 1320.5V1286.81H662.03V1320.5ZM661.73 1320.5V1253.13H664.57V1320.5ZM664.27 1320.5V1295.23H665.39V1320.5ZM665.09 1320.5V1219.44H667.64V1320.5ZM667.34 1320.5V1051.01H672.12V1320.5ZM671.82 1320.5V1017.32H674.67V1320.5ZM674.37 1320.5V1025.74H675.79V1320.5ZM675.49 1320.5V1143.64H678.03V1320.5ZM677.73 1320.5V1236.28H679.15V1320.5ZM678.85 1320.5V1269.97H679.98V1320.5ZM679.68 1320.5V1253.13H682.52V1320.5ZM682.22 1320.5V1295.23H684.46V1320.5ZM684.16 1320.5V1236.28H687.01V1320.5ZM686.71 1320.5V1295.23H687.83V1320.5ZM687.53 1320.5V1261.55H690.37V1320.5ZM690.07 1320.5V1295.23H692.32V1320.5ZM692.02 1320.5V1261.55H694.56V1320.5ZM694.26 1320.5V1152.07H695.98V1320.5ZM695.68 1320.5V1211.02H698.23V1320.5ZM697.93 1320.5V1236.28H700.47V1320.5ZM700.17 1320.5V1278.39H702.71V1320.5ZM702.41 1320.5V1286.81H704.96V1320.5ZM704.66 1320.5V1295.23H705.78V1320.5ZM705.48 1320.5V1286.81H707.2V1320.5ZM706.9 1320.5V1295.23H710.27V1320.5ZM865.09 1320.5V1295.23H902.11V1320.5ZM901.81 1320.5V1244.7H904.35V1320.5ZM904.05 1320.5V1042.59H906.9V1320.5ZM906.6 1320.5V1135.22H907.72V1320.5ZM907.42 1320.5V1118.38H910.26V1320.5ZM909.96 1320.5V1227.86H911.38V1320.5ZM911.08 1320.5V1253.13H913.33V1320.5ZM913.03 1320.5V1168.91H914.45V1320.5ZM914.15 1320.5V1160.49H916.99V1320.5ZM916.69 1320.5V1194.17H918.11V1320.5ZM917.81 1320.5V1261.55H918.94V1320.5ZM918.64 1320.5V1253.13H920.36V1320.5ZM920.06 1320.5V1278.39H922.3V1320.5ZM922 1320.5V1253.13H924.85V1320.5ZM924.55 1320.5V1269.97H925.67V1320.5ZM925.37 1320.5V1253.13H928.21V1320.5ZM927.91 1320.5V1269.97H929.03V1320.5ZM928.73 1320.5V1211.02H931.28V1320.5ZM930.98 1320.5V1194.17H933.52V1320.5ZM933.22 1320.5V1067.85H934.64V1320.5ZM934.34 1320.5V1051.01H935.76V1320.5ZM935.46 1320.5V1017.32H936.89V1320.5ZM936.59 1320.5V1008.9H939.43V1320.5ZM939.13 1320.5V1219.44H940.25V1320.5ZM939.95 1320.5V1076.27H942.5V1320.5ZM942.2 1320.5V1059.43H945.04V1320.5ZM944.74 1320.5V1093.12H946.16V1320.5ZM945.86 1320.5V1152.07H948.4V1320.5ZM948.1 1320.5V1177.33H950.65V1320.5ZM950.35 1320.5V1194.17H951.77V1320.5ZM951.47 1320.5V1278.39H953.71V1320.5ZM953.41 1320.5V1202.6H955.96V1320.5ZM955.66 1320.5V1177.33H958.5V1320.5ZM958.2 1320.5V1227.86H959.62V1320.5ZM959.32 1320.5V1286.81H961.57V1320.5ZM961.27 1320.5V1269.97H962.99V1320.5ZM962.69 1320.5V1295.23H966.05V1320.5ZM965.75 1320.5V1278.39H967.18V1320.5ZM966.88 1320.5V1269.97H970.84V1320.5ZM970.54 1320.5V1295.23H973.91V1320.5ZM973.61 1320.5V1269.97H976.45V1320.5ZM976.15 1320.5V1286.81H979.52V1320.5ZM979.22 1320.5V1278.39H980.64V1320.5ZM980.34 1320.5V1202.6H983.18V1320.5ZM982.88 1320.5V1244.7H984.3V1320.5ZM984 1320.5V1269.97H985.13V1320.5ZM984.83 1320.5V1152.07H987.37V1320.5ZM987.07 1320.5V1118.38H988.49V1320.5ZM988.19 1320.5V1093.12H989.61V1320.5ZM989.31 1320.5V1051.01H990.74V1320.5ZM990.44 1320.5V1017.32H993.28V1320.5ZM992.98 1320.5V1093.12H994.4V1320.5ZM994.1 1320.5V1194.17H995.52V1320.5ZM995.22 1320.5V1278.39H997.77V1320.5ZM997.47 1320.5V1295.23H999.71V1320.5ZM999.41 1320.5V1278.39H1001.13V1320.5ZM1000.83 1320.5V1295.23H1003.08V1320.5ZM1002.78 1320.5V1286.81H1004.2V1320.5ZM1003.9 1320.5V1269.97H1006.44V1320.5ZM1006.14 1320.5V1194.17H1008.99V1320.5ZM1008.69 1320.5V1253.13H1010.11V1320.5ZM1009.81 1320.5V1269.97H1012.05V1320.5ZM1011.75 1320.5V1244.7H1014.6V1320.5ZM1014.3 1320.5V1269.97H1016.84V1320.5ZM1016.54 1320.5V1295.23H1018.78V1320.5ZM1018.48 1320.5V1286.81H1019.9V1320.5ZM1019.6 1320.5V1278.39H1022.45V1320.5ZM1022.15 1320.5V1286.81H1025.81V1320.5ZM1025.51 1320.5V1295.23H1030V1320.5ZM1198.28 1320.5V1278.39H1208.38V1320.5ZM1208.08 1320.5V1269.97H1210.92V1320.5ZM1210.62 1320.5V1278.39H1222.96V1320.5ZM1222.66 1320.5V1269.97H1224.39V1320.5ZM1224.09 1320.5V1286.81H1225.21V1320.5ZM1224.91 1320.5V1269.97H1227.75V1320.5ZM1227.45 1320.5V1286.81H1228.57V1320.5ZM1228.27 1320.5V1261.55H1229.7V1320.5ZM1229.4 1320.5V1118.38H1232.24V1320.5ZM1231.94 1320.5V1168.91H1233.36V1320.5ZM1233.06 1320.5V1219.44H1234.48V1320.5ZM1234.18 1320.5V1236.28H1236.43V1320.5ZM1236.13 1320.5V1076.27H1237.55V1320.5ZM1237.25 1320.5V1051.01H1238.67V1320.5ZM1238.37 1320.5V1008.9H1243.46V1320.5ZM1243.16 1320.5V1034.16H1244.58V1320.5ZM1244.28 1320.5V1126.8H1245.7V1320.5ZM1245.4 1320.5V1269.97H1246.52V1320.5ZM1246.22 1320.5V1244.7H1249.07V1320.5ZM1248.77 1320.5V1269.97H1249.89V1320.5ZM1249.59 1320.5V1227.86H1252.43V1320.5ZM1252.13 1320.5V1261.55H1254.38V1320.5ZM1254.08 1320.5V1236.28H1255.8V1320.5ZM1255.5 1320.5V1244.7H1257.74V1320.5ZM1257.44 1320.5V1219.44H1259.16V1320.5ZM1258.86 1320.5V1253.13H1261.11V1320.5ZM1260.81 1320.5V1236.28H1263.65V1320.5ZM1263.35 1320.5V1261.55H1265.6V1320.5ZM1265.3 1320.5V1202.6H1266.72V1320.5ZM1266.42 1320.5V1101.54H1267.84V1320.5ZM1267.54 1320.5V983.63H1268.96V1320.5ZM1268.66 1320.5V941.53H1270.38V1320.5ZM1270.08 1320.5V1051.01H1272.63V1320.5ZM1272.33 1320.5V1126.8H1273.75V1320.5ZM1273.45 1320.5V1160.49H1274.87V1320.5ZM1274.57 1320.5V1227.86H1275.99V1320.5ZM1275.69 1320.5V1236.28H1277.11V1320.5ZM1276.81 1320.5V1295.23H1277.94V1320.5ZM1277.64 1320.5V1253.13H1279.06V1320.5ZM1278.76 1320.5V1059.43H1281.6V1320.5ZM1281.3 1320.5V1185.75H1282.72V1320.5ZM1282.42 1320.5V1194.17H1283.85V1320.5ZM1283.55 1320.5V1219.44H1284.97V1320.5ZM1284.67 1320.5V1244.7H1287.21V1320.5ZM1286.91 1320.5V1253.13H1288.33V1320.5ZM1288.03 1320.5V1269.97H1289.45V1320.5ZM1289.15 1320.5V1295.23H1291.4V1320.5ZM1291.1 1320.5V1269.97H1293.94V1320.5ZM1293.64 1320.5V1286.81H1297.01V1320.5ZM1296.71 1320.5V1253.13H1299.55V1320.5ZM1299.25 1320.5V1303.66H1300.37V1320.5ZM1300.07 1320.5V1278.39H1302.92V1320.5ZM1302.62 1320.5V1295.23H1305.98V1320.5ZM1305.68 1320.5V1261.55H1308.23V1320.5ZM1307.93 1320.5V1185.75H1310.47V1320.5ZM1310.17 1320.5V1177.33H1313.01V1320.5ZM1312.71 1320.5V1261.55H1314.14V1320.5ZM1313.84 1320.5V1278.39H1315.26V1320.5ZM1314.96 1320.5V1286.81H1317.5V1320.5ZM1317.2 1320.5V1303.66H1318.32V1320.5ZM1318.02 1320.5V1278.39H1321.99V1320.5ZM1321.69 1320.5V1303.66H1322.81V1320.5ZM1322.51 1320.5V1278.39H1325.35V1320.5ZM1325.05 1320.5V1303.66H1327.3V1320.5ZM1327 1320.5V1278.39H1329.84V1320.5ZM1329.54 1320.5V1303.66H1331.79V1320.5ZM1331.49 1320.5V1269.97H1335.45V1320.5ZM1335.15 1320.5V1303.66H1336.27V1320.5ZM1335.97 1320.5V1227.86H1337.4V1320.5ZM1337.1 1320.5V1059.43H1339.94V1320.5ZM1339.64 1320.5V1185.75H1341.06V1320.5ZM1340.76 1320.5V1278.39H1343.3V1320.5ZM1343 1320.5V1295.23H1344.13V1320.5ZM1343.83 1320.5V1253.13H1345.25V1320.5ZM1344.95 1320.5V1168.91H1347.79V1320.5ZM1347.49 1320.5V1244.7H1350.04V1320.5ZM1349.74 1320.5V1261.55H1351.16V1320.5ZM1350.86 1320.5V1286.81H1351.98V1320.5ZM1351.68 1320.5V1067.85H1354.52V1320.5ZM1524.45 1320.5V1261.55H1528.41V1320.5ZM1528.11 1320.5V1269.97H1546.06V1320.5ZM1545.76 1320.5V1227.86H1548.31V1320.5ZM1548.01 1320.5V1118.38H1550.85V1320.5ZM1550.55 1320.5V1236.28H1553.1V1320.5ZM1552.8 1320.5V1269.97H1555.04V1320.5ZM1554.74 1320.5V1261.55H1556.16V1320.5ZM1555.86 1320.5V1253.13H1558.7V1320.5ZM1558.4 1320.5V1269.97H1559.53V1320.5ZM1559.23 1320.5V1219.44H1561.77V1320.5ZM1561.47 1320.5V1168.91H1564.31V1320.5ZM1564.01 1320.5V1227.86H1565.14V1320.5ZM1564.84 1320.5V1177.33H1566.26V1320.5ZM1565.96 1320.5V1152.07H1568.8V1320.5ZM1568.5 1320.5V1219.44H1569.92V1320.5ZM1569.62 1320.5V1227.86H1573.29V1320.5ZM1572.99 1320.5V1244.7H1574.11V1320.5ZM1573.81 1320.5V1227.86H1575.53V1320.5ZM1575.23 1320.5V1244.7H1577.48V1320.5ZM1577.18 1320.5V1219.44H1580.02V1320.5ZM1579.72 1320.5V1244.7H1580.84V1320.5ZM1580.54 1320.5V1227.86H1582.26V1320.5ZM1581.96 1320.5V1236.28H1584.21V1320.5ZM1583.91 1320.5V1211.02H1586.45V1320.5ZM1586.15 1320.5V1168.91H1587.57V1320.5ZM1587.27 1320.5V1059.43H1590.12V1320.5ZM1589.82 1320.5V1126.8H1590.94V1320.5ZM1590.64 1320.5V1109.96H1593.18V1320.5ZM1592.88 1320.5V1084.69H1595.73V1320.5ZM1595.43 1320.5V1253.13H1597.67V1320.5ZM1597.37 1320.5V1168.91H1600.21V1320.5ZM1599.91 1320.5V1185.75H1601.34V1320.5ZM1601.04 1320.5V1211.02H1602.46V1320.5ZM1602.16 1320.5V1295.23H1604.4V1320.5ZM1604.1 1320.5V1269.97H1605.82V1320.5ZM1605.52 1320.5V1286.81H1607.77V1320.5ZM1607.47 1320.5V1269.97H1610.31V1320.5ZM1610.01 1320.5V1295.23H1613.38V1320.5ZM1613.08 1320.5V1269.97H1614.8V1320.5ZM1614.5 1320.5V1303.66H1616.74V1320.5ZM1616.44 1320.5V1261.55H1618.16V1320.5ZM1617.86 1320.5V1295.23H1620.11V1320.5ZM1619.81 1320.5V1244.7H1622.65V1320.5ZM1622.35 1320.5V1303.66H1623.47V1320.5ZM1623.17 1320.5V1278.39H1624.6V1320.5ZM1624.3 1320.5V1244.7H1627.14V1320.5ZM1626.84 1320.5V1253.13H1630.5V1320.5ZM1630.2 1320.5V1286.81H1632.45V1320.5ZM1632.15 1320.5V1227.86H1634.69V1320.5ZM1634.39 1320.5V1118.38H1635.81V1320.5ZM1635.51 1320.5V1084.69H1637.24V1320.5ZM1636.94 1320.5V1295.23H1640.3V1320.5ZM1640 1320.5V1269.97H1642.85V1320.5ZM1642.55 1320.5V1295.23H1643.67V1320.5ZM1643.37 1320.5V1278.39H1646.21V1320.5ZM1645.91 1320.5V1295.23H1648.15V1320.5ZM1647.85 1320.5V1269.97H1649.28V1320.5ZM1648.98 1320.5V1194.17H1650.7V1320.5ZM1650.4 1320.5V1211.02H1652.94V1320.5ZM1652.64 1320.5V1261.55H1655.19V1320.5ZM1654.89 1320.5V1295.23H1656.01V1320.5ZM1655.71 1320.5V1269.97H1658.55V1320.5ZM1658.25 1320.5V1295.23H1660.5V1320.5ZM1660.2 1320.5V1253.13H1664.16V1320.5ZM1663.86 1320.5V1261.55H1664.98V1320.5ZM1664.68 1320.5V1244.7H1667.53V1320.5ZM1667.23 1320.5V1269.97H1668.65V1320.5ZM1668.35 1320.5V1286.81H1669.77V1320.5ZM1669.47 1320.5V1295.23H1672.84V1320.5ZM1672.54 1320.5V1278.39H1675.38V1320.5ZM1675.08 1320.5V1286.81H1690.79V1320.5ZM1850.91 1320.5V1286.81H1853.76V1320.5ZM1853.46 1320.5V1295.23H1856.82V1320.5ZM1856.52 1320.5V1286.81H1859.37V1320.5ZM1859.07 1320.5V1295.23H1860.19V1320.5ZM1859.89 1320.5V1286.81H1864.98V1320.5ZM1864.68 1320.5V1295.23H1866.92V1320.5ZM1866.62 1320.5V1286.81H1870.29V1320.5ZM1869.99 1320.5V1278.39H1872.83V1320.5ZM1872.53 1320.5V1295.23H1873.65V1320.5ZM1873.35 1320.5V1286.81H1876.2V1320.5ZM1875.9 1320.5V1295.23H1877.02V1320.5ZM1876.72 1320.5V1286.81H1879.56V1320.5ZM1879.26 1320.5V1295.23H1881.5V1320.5ZM1881.2 1320.5V1286.81H1884.05V1320.5ZM1883.75 1320.5V1295.23H1890.48V1320.5ZM1890.18 1320.5V1286.81H1894.15V1320.5ZM1893.85 1320.5V1295.23H1897.21V1320.5ZM1896.91 1320.5V1286.81H1899.75V1320.5ZM1899.45 1320.5V1295.23H1907.31V1320.5ZM1907.01 1320.5V1286.81H1909.85V1320.5ZM1909.55 1320.5V1295.23H1945.45V1320.5ZM1945.15 1320.5V1286.81H1949.12V1320.5ZM1948.82 1320.5V1295.23H1998.18V1320.5ZM1997.88 1320.5V1286.81H2000.72V1320.5Z" fill="#239170" clip-path="url(#dk)"/>
<path d="M252.74 1295.23V1286.61H253.44V1295.23ZM253.86 1295.23V1286.61H254.56V1295.23ZM256.11 1295.23V1286.61H256.81V1295.23ZM258.35 1295.23V1286.61H259.05V1295.23ZM259.47 1295.23V1286.61H260.17V1295.23ZM261.72 1295.23V1286.61H262.42V1295.23ZM263.96 1295.23V1286.61H264.66V1295.23ZM265.08 1295.23V1286.61H265.78V1295.23ZM268.45 1295.23V1286.61H269.15V1295.23ZM269.57 1295.23V1286.61H270.27V1295.23ZM274.06 1295.23V1286.61H274.76V1295.23ZM276.3 1295.23V1286.61H277V1295.23ZM278.55 1295.23V1286.61H279.25V1295.23ZM279.67 1295.23V1286.61H280.37V1295.23ZM313.32 1303.66V1295.03H314.02V1303.66ZM314.45 1303.66V1295.03H315.15V1303.66ZM316.69 1303.66V1295.03H317.39V1303.66ZM320.05 1303.66V1295.03H320.75V1303.66ZM322.3 1303.66V1295.03H323V1303.66ZM323.42 1303.66V1295.03H324.12V1303.66ZM324.54 1303.66V1295.03H325.24V1303.66ZM327.91 1303.66V1295.03H328.61V1303.66ZM331.27 1303.66V1295.03H331.97V1303.66ZM334.64 1303.66V1295.03H335.34V1303.66ZM340.25 1303.66V1295.03H340.95V1303.66ZM342.49 1303.66V1295.03H343.19V1303.66ZM345.86 1303.66V1295.03H346.56V1303.66ZM348.1 1303.66V1295.03H348.8V1303.66ZM353.71 1303.66V1295.03H354.41V1303.66ZM363.81 1303.66V1295.03H364.51V1303.66ZM369.42 1303.66V1295.03H370.12V1303.66ZM370.54 1303.66V1295.03H371.24V1303.66ZM372.78 1303.66V1295.03H373.48V1303.66ZM375.03 1303.66V1295.03H375.73V1303.66ZM376.15 1303.66V1295.03H376.85V1303.66ZM377.27 1303.66V1295.03H377.97V1303.66ZM379.51 1303.66V1295.03H380.21V1303.66ZM380.64 1303.66V1295.03H381.34V1303.66ZM381.76 1303.66V1295.03H382.46V1303.66ZM384 1303.66V1295.03H384.7V1303.66ZM390.73 1303.66V1295.03H391.43V1303.66ZM392.98 1303.66V1295.03H393.68V1303.66ZM400.83 1286.81V1278.19H401.53V1286.81ZM401.95 1286.81V1278.19H402.65V1286.81ZM403.07 1286.81V1278.19H403.77V1286.81ZM404.2 1286.81V1278.19H404.9V1286.81ZM407.56 1286.81V1278.19H408.26V1286.81ZM408.68 1286.81V1278.19H409.38V1286.81ZM410.93 1286.81V1278.19H411.63V1286.81ZM478.24 1278.39V1269.77H478.94V1278.39ZM486.09 1278.39V1269.77H486.79V1278.39ZM488.34 1278.39V1269.77H489.04V1278.39ZM489.46 1278.39V1269.77H490.16V1278.39ZM490.58 1278.39V1269.77H491.28V1278.39ZM491.7 1278.39V1269.77H492.4V1278.39ZM493.95 1278.39V1269.77H494.65V1278.39ZM495.07 1278.39V1269.77H495.77V1278.39ZM496.19 1278.39V1269.77H496.89V1278.39ZM497.31 1278.39V1269.77H498.01V1278.39ZM499.55 1278.39V1269.77H500.25V1278.39ZM502.92 1278.39V1269.77H503.62V1278.39ZM504.04 1278.39V1269.77H504.74V1278.39ZM507.41 1278.39V1269.77H508.11V1278.39ZM513.02 1278.39V1269.77H513.72V1278.39ZM514.14 1278.39V1269.77H514.84V1278.39ZM518.63 1278.39V1269.77H519.33V1278.39ZM519.75 1278.39V1269.77H520.45V1278.39ZM523.11 1278.39V1269.77H523.81V1278.39ZM525.36 1278.39V1269.77H526.06V1278.39ZM533.21 1278.39V1269.77H533.91V1278.39ZM538.82 1278.39V1269.77H539.52V1278.39ZM546.67 1278.39V1269.77H547.37V1278.39ZM550.04 1278.39V1269.77H550.74V1278.39ZM554.53 1278.39V1269.77H555.23V1278.39ZM556.77 1278.39V1269.77H557.47V1278.39ZM712.71 1295.23V1286.61H713.41V1295.23ZM722.81 1303.66V1295.03H723.51V1303.66ZM732.9 1303.66V1295.03H733.6V1303.66ZM734.03 1303.66V1295.03H734.73V1303.66ZM735.15 1303.66V1295.03H735.85V1303.66ZM738.51 1303.66V1295.03H739.21V1303.66ZM745.25 1303.66V1295.03H745.95V1303.66ZM746.37 1303.66V1295.03H747.07V1303.66ZM755.34 1303.66V1295.03H756.04V1303.66ZM756.46 1303.66V1295.03H757.16V1303.66ZM758.71 1303.66V1295.03H759.41V1303.66ZM760.95 1303.66V1295.03H761.65V1303.66ZM763.2 1303.66V1295.03H763.9V1303.66ZM775.54 1303.66V1295.03H776.24V1303.66ZM777.78 1303.66V1295.03H778.48V1303.66ZM778.9 1303.66V1295.03H779.6V1303.66ZM781.15 1303.66V1295.03H781.85V1303.66ZM790.12 1303.66V1295.03H790.82V1303.66ZM792.36 1303.66V1295.03H793.06V1303.66ZM813.68 1303.66V1295.03H814.38V1303.66ZM818.17 1303.66V1295.03H818.87V1303.66ZM819.29 1303.66V1295.03H819.99V1303.66ZM821.53 1303.66V1295.03H822.23V1303.66ZM822.65 1303.66V1295.03H823.35V1303.66ZM823.78 1303.66V1295.03H824.48V1303.66ZM828.26 1303.66V1295.03H828.96V1303.66ZM831.63 1303.66V1295.03H832.33V1303.66ZM835 1303.66V1295.03H835.7V1303.66ZM841.73 1303.66V1295.03H842.43V1303.66ZM846.21 1303.66V1295.03H846.91V1303.66ZM849.58 1303.66V1295.03H850.28V1303.66ZM852.95 1303.66V1295.03H853.65V1303.66ZM857.43 1303.66V1295.03H858.13V1303.66ZM865.29 1303.66V1295.03H865.99V1303.66ZM867.53 1303.66V1295.03H868.23V1303.66ZM870.9 1303.66V1295.03H871.6V1303.66ZM875.38 1303.66V1295.03H876.08V1303.66ZM876.5 1303.66V1295.03H877.2V1303.66ZM880.99 1303.66V1295.03H881.69V1303.66ZM882.11 1303.66V1295.03H882.81V1303.66ZM1041.42 1303.66V1295.03H1042.12V1303.66ZM1042.54 1303.66V1295.03H1043.24V1303.66ZM1043.66 1303.66V1295.03H1044.36V1303.66ZM1044.79 1303.66V1295.03H1045.49V1303.66ZM1045.91 1303.66V1295.03H1046.61V1303.66ZM1047.03 1303.66V1295.03H1047.73V1303.66ZM1048.15 1303.66V1295.03H1048.85V1303.66ZM1050.4 1303.66V1295.03H1051.1V1303.66ZM1052.64 1303.66V1295.03H1053.34V1303.66ZM1053.76 1303.66V1295.03H1054.46V1303.66ZM1054.88 1303.66V1295.03H1055.58V1303.66ZM1056 1303.66V1295.03H1056.7V1303.66ZM1057.13 1303.66V1295.03H1057.83V1303.66ZM1060.49 1303.66V1295.03H1061.19V1303.66ZM1063.86 1303.66V1295.03H1064.56V1303.66ZM1069.47 1303.66V1295.03H1070.17V1303.66ZM1073.95 1303.66V1295.03H1074.65V1303.66ZM1080.69 1286.81V1278.19H1081.39V1286.81ZM1081.81 1286.81V1278.19H1082.51V1286.81ZM1082.93 1286.81V1278.19H1083.63V1286.81ZM1084.05 1286.81V1278.19H1084.75V1286.81ZM1086.3 1286.81V1278.19H1087V1286.81ZM1087.42 1286.81V1278.19H1088.12V1286.81ZM1088.54 1286.81V1278.19H1089.24V1286.81ZM1093.03 1286.81V1278.19H1093.73V1286.81ZM1094.15 1286.81V1278.19H1094.85V1286.81ZM1095.27 1286.81V1278.19H1095.97V1286.81ZM1097.51 1286.81V1278.19H1098.21V1286.81ZM1099.76 1286.81V1278.19H1100.46V1286.81ZM1104.25 1286.81V1278.19H1104.95V1286.81ZM1106.49 1286.81V1278.19H1107.19V1286.81ZM1107.61 1286.81V1278.19H1108.31V1286.81ZM1108.73 1286.81V1278.19H1109.43V1286.81ZM1109.85 1286.81V1278.19H1110.55V1286.81ZM1113.22 1286.81V1278.19H1113.92V1286.81ZM1115.46 1286.81V1278.19H1116.16V1286.81ZM1116.59 1286.81V1278.19H1117.29V1286.81ZM1117.71 1286.81V1278.19H1118.41V1286.81ZM1118.83 1286.81V1278.19H1119.53V1286.81ZM1119.95 1286.81V1278.19H1120.65V1286.81ZM1121.07 1286.81V1278.19H1121.77V1286.81ZM1122.2 1286.81V1278.19H1122.9V1286.81ZM1123.32 1286.81V1278.19H1124.02V1286.81ZM1131.17 1286.81V1278.19H1131.87V1286.81ZM1132.29 1286.81V1278.19H1132.99V1286.81ZM1366.76 1278.39V1269.77H1367.46V1278.39ZM1370.13 1278.39V1269.77H1370.83V1278.39ZM1383.59 1303.66V1295.03H1384.29V1303.66ZM1394.81 1303.66V1295.03H1395.51V1303.66ZM1395.93 1303.66V1295.03H1396.63V1303.66ZM1397.05 1303.66V1295.03H1397.75V1303.66ZM1455.39 1278.39V1269.77H1456.09V1278.39ZM1456.51 1278.39V1269.77H1457.21V1278.39ZM1464.37 1278.39V1269.77H1465.07V1278.39ZM1471.1 1278.39V1269.77H1471.8V1278.39ZM1473.34 1278.39V1269.77H1474.04V1278.39ZM1474.46 1278.39V1269.77H1475.16V1278.39ZM1477.83 1278.39V1269.77H1478.53V1278.39ZM1489.05 1278.39V1269.77H1489.75V1278.39ZM1490.17 1278.39V1269.77H1490.87V1278.39ZM1491.29 1278.39V1269.77H1491.99V1278.39ZM1495.78 1278.39V1269.77H1496.48V1278.39ZM1496.9 1278.39V1269.77H1497.6V1278.39ZM1507 1278.39V1269.77H1507.7V1278.39ZM1509.24 1278.39V1269.77H1509.94V1278.39ZM1512.61 1278.39V1269.77H1513.31V1278.39ZM1519.34 1278.39V1269.77H1520.04V1278.39ZM1521.58 1278.39V1269.77H1522.28V1278.39ZM1523.83 1278.39V1269.77H1524.53V1278.39ZM1704.45 1303.66V1295.03H1705.15V1303.66ZM1707.81 1303.66V1295.03H1708.51V1303.66ZM1722.4 1303.66V1295.03H1723.1V1303.66ZM1723.52 1303.66V1295.03H1724.22V1303.66ZM1728.01 1303.66V1295.03H1728.71V1303.66ZM1731.37 1303.66V1295.03H1732.07V1303.66ZM1742.59 1303.66V1295.03H1743.29V1303.66ZM1749.32 1303.66V1295.03H1750.02V1303.66ZM1751.57 1303.66V1295.03H1752.27V1303.66Z" fill="#f0f0f0" fill-opacity=".6"/>
<path d="M564.62 1278.39V1269.77H565.32V1278.39ZM565.75 1278.39V1269.77H566.45V1278.39ZM566.87 1278.39V1269.77H567.57V1278.39ZM567.99 1278.39V1269.77H568.69V1278.39ZM569.11 1278.39V1269.77H569.81V1278.39ZM885.48 1303.66V1295.03H886.18V1303.66ZM889.97 1303.66V1295.03H890.67V1303.66ZM892.21 1303.66V1295.03H892.91V1303.66ZM895.58 1303.66V1295.03H896.28V1303.66ZM898.94 1303.66V1295.03H899.64V1303.66ZM900.06 1303.66V1295.03H900.76V1303.66ZM1530.56 1278.39V1269.77H1531.26V1278.39ZM1536.17 1278.39V1269.77H1536.87V1278.39ZM1539.53 1278.39V1269.77H1540.23V1278.39ZM1540.65 1278.39V1269.77H1541.35V1278.39ZM1544.02 1278.39V1269.77H1544.72V1278.39ZM1545.14 1278.39V1269.77H1545.84V1278.39ZM1915.36 1303.66V1295.03H1916.06V1303.66ZM1916.48 1303.66V1295.03H1917.18V1303.66ZM1917.6 1303.66V1295.03H1918.3V1303.66ZM1918.73 1303.66V1295.03H1919.43V1303.66ZM1922.09 1303.66V1295.03H1922.79V1303.66ZM1926.58 1303.66V1295.03H1927.28V1303.66ZM1927.7 1303.66V1295.03H1928.4V1303.66ZM1928.82 1303.66V1295.03H1929.52V1303.66ZM1929.95 1303.66V1295.03H1930.65V1303.66ZM1931.07 1303.66V1295.03H1931.77V1303.66ZM1932.19 1303.66V1295.03H1932.89V1303.66ZM1933.31 1303.66V1295.03H1934.01V1303.66ZM1941.16 1303.66V1295.03H1941.86V1303.66ZM1942.29 1303.66V1295.03H1942.99V1303.66ZM1943.41 1303.66V1295.03H1944.11V1303.66ZM1944.53 1303.66V1295.03H1945.23V1303.66ZM1950.14 1303.66V1295.03H1950.84V1303.66ZM1954.63 1303.66V1295.03H1955.33V1303.66ZM1955.75 1303.66V1295.03H1956.45V1303.66ZM1956.87 1303.66V1295.03H1957.57V1303.66ZM1957.99 1303.66V1295.03H1958.69V1303.66ZM1963.6 1303.66V1295.03H1964.3V1303.66ZM1964.72 1303.66V1295.03H1965.42V1303.66ZM1970.33 1303.66V1295.03H1971.03V1303.66ZM1971.45 1303.66V1295.03H1972.15V1303.66ZM1977.06 1303.66V1295.03H1977.76V1303.66ZM1978.19 1303.66V1295.03H1978.89V1303.66ZM1979.31 1303.66V1295.03H1980.01V1303.66ZM1989.4 1303.66V1295.03H1990.1V1303.66Z" fill="#e8f4ee" fill-opacity=".45"/>
<rect x="153.8" y="814.7" width="2" height="506.8" fill="#6f6f6f"/>
<rect x="153.8" y="1320.2" width="2263.4" height="1.6" fill="#6f6f6f"/>
<path d="M143.7 1320.5H153.8M143.7 1236.28H153.8M143.7 1152.07H153.8M143.7 1067.85H153.8M143.7 983.63H153.8M143.7 899.42H153.8M143.7 815.2H153.8" stroke="#8a8a8a" stroke-width="1.2" fill="none"/>
<path d="M155.5 1321.7V1331.5M478.6 1321.7V1331.5M801.7 1321.7V1331.5M1124.8 1321.7V1331.5M1447.9 1321.7V1331.5M1771 1321.7V1331.5M2094.1 1321.7V1331.5" stroke="#b0b0b0" stroke-width="1.8" fill="none"/>
<g font-family="'DejaVu Sans','Liberation Sans',sans-serif" font-size="20.4" fill="#3a3a3a" stroke="#3a3a3a" stroke-width=".3" text-anchor="end">
<text x="134.4" y="1327.1">0</text>
<text x="134.4" y="1242.88">10</text>
<text x="134.4" y="1158.67">20</text>
<text x="134.4" y="1074.45">30</text>
<text x="134.4" y="990.23">40</text>
<text x="134.4" y="906.02">50</text>
<text x="134.4" y="821.8">60</text>
</g>
<g font-family="'DejaVu Sans','Liberation Sans',sans-serif" font-size="20.4" fill="#0a0a0a" stroke="#0a0a0a" stroke-width=".5" text-anchor="middle">
<text x="155.8" y="1356.5">dim. 25</text>
<text x="478.9" y="1356.5">lun. 26</text>
<text x="802" y="1356.5">mar. 27</text>
<text x="1125.1" y="1356.5">mer. 28</text>
<text x="1448.2" y="1356.5">jeu. 29</text>
<text x="1771.3" y="1356.5">ven. 30</text>
<text x="2094.4" y="1356.5">sam. 31</text>
</g>
<text transform="translate(86.1 1067.6) rotate(-90)" font-family="'DejaVu Sans Condensed','Liberation Sans',sans-serif" font-size="22.6" fill="#3a3a3a" stroke="#3a3a3a" stroke-width=".35" text-anchor="middle">kW</text>
</g>
<defs><linearGradient id="wg" x1="0" y1="0" x2="0" y2="1"><stop offset="0" stop-color="#00d2b0"/><stop offset=".6" stop-color="#00c2a3"/><stop offset="1" stop-color="#00b196"/></linearGradient>
<linearGradient id="eg" x1="0" y1="0" x2="0" y2="1"><stop offset="0" stop-color="#00f2cb"/><stop offset=".62" stop-color="#00f2cb"/><stop offset=".8" stop-color="#00c9a9"/><stop offset="1" stop-color="#00c9a9"/></linearGradient></defs>
<g id="ecowatt">
<rect x="176.5" y="49" width="481.7" height="77.8" fill="#0a0818"/>
<text x="187.4" y="110.2" font-family="'Liberation Sans','DejaVu Sans',sans-serif" font-weight="bold" font-size="55" fill="url(#eg)" textLength="84" lengthAdjust="spacingAndGlyphs">éco</text>
<text x="272" y="110.2" font-family="'Liberation Sans','DejaVu Sans',sans-serif" font-weight="bold" font-size="55" fill="#fff" textLength="101.5" lengthAdjust="spacingAndGlyphs">watt</text>
<path d="M303 106L315 68.6" stroke="#fff" stroke-width="7" stroke-linecap="round" fill="none"/>
<ellipse cx="433.9" cy="89.1" rx="25.9" ry="28.1" fill="#00b3e3"/>
<text x="434.4" y="96.4" font-family="'Liberation Sans','DejaVu Sans',sans-serif" font-size="23.5" fill="#fff" text-anchor="middle" textLength="32" lengthAdjust="spacingAndGlyphs">Rte</text>
<path d="M426 91.3H449.5" stroke="#fff" stroke-width="1.3" fill="none" opacity=".9"/>
<g font-family="'Liberation Sans','DejaVu Sans',sans-serif" font-size="11.4" fill="#0a9cc6">
<text x="468.2" y="78.9">Le réseau</text><text x="468.2" y="92.3">de transport</text><text x="468.2" y="105.4">d’électricité</text></g>
<rect x="546.6" y="61.2" width="100.5" height="56" fill="#fff"/>
<rect x="553.2" y="68.5" width="6" height="7" fill="#2a3f8f"/><rect x="559.2" y="68.5" width="6.4" height="7" fill="#f4f4f8"/><rect x="565.4" y="68.5" width="6.4" height="7" fill="#e1000f"/>
<path d="M559.4 69.4q3 1.2 2.4 4.2l1.2 1.9h-3.6z" fill="#2a3f8f" opacity=".55"/>
<g font-family="'Liberation Sans','DejaVu Sans',sans-serif" font-weight="bold" font-size="7.6" fill="#1b1b1b">
<text x="553" y="84.7" textLength="43.9" lengthAdjust="spacingAndGlyphs">RÉPUBLIQUE</text><text x="553" y="93.1" textLength="40.8" lengthAdjust="spacingAndGlyphs">FRANÇAISE</text></g>
<g font-family="'Liberation Sans','DejaVu Sans',sans-serif" font-style="italic" font-size="4.3" fill="#3a3a3a">
<text x="553.2" y="100.2">Liberté</text><text x="553.2" y="105.1">Égalité</text><text x="553.2" y="110">Fraternité</text></g>
<rect x="606.9" y="66.5" width="35.2" height="45" fill="#fff" stroke="#3f6fb8" stroke-width="1"/>
<rect x="608.6" y="68.2" width="31.8" height="41.6" fill="none" stroke="#9db7df" stroke-width=".5"/>
<text x="624.6" y="74.7" font-family="'Liberation Sans','DejaVu Sans',sans-serif" font-weight="bold" font-size="6.6" fill="#e1121a" text-anchor="middle" textLength="25.4" lengthAdjust="spacing">ADEME</text>
<circle cx="624.6" cy="87.1" r="8.7" fill="#2452a6"/>
<path d="M619.5 82.5q3-2.6 6.2-1.6l-1.4 3.2 2.6 1.2-1.6 4.4 2.4 3.6q-2.6 1.6-4.4-.6l-.4-4.4-2.8-1.6z" fill="#8fa6dc" opacity=".8"/>
<path d="M627.4 80.6q3 1 4.2 3.8l-2.6.8z" fill="#8fa6dc" opacity=".7"/>
<g font-family="'Liberation Sans','DejaVu Sans',sans-serif" font-weight="bold" font-size="2.9" fill="#e1121a" text-anchor="middle">
<text x="624.6" y="101.6" textLength="25" lengthAdjust="spacing">AGENCE DE LA</text><text x="624.6" y="105.3" textLength="25" lengthAdjust="spacing">TRANSITION</text><text x="624.6" y="109" textLength="25" lengthAdjust="spacing">ÉCOLOGIQUE</text></g>
<path d="M169.3 135.4H660.8V258.5H169.3ZM173 139.1V189.4H289.3V139.1ZM173 194.6V253.8H289.3V194.6ZM294.5 139.1V189.4H411.3V139.1ZM294.5 194.6V253.8H411.3V194.6ZM416.7 139.1V189.4H533.3V139.1ZM416.7 194.6V253.8H533.3V194.6ZM538.7 139.1V189.4H655.4V139.1ZM538.7 194.6V253.8H655.4V194.6Z" fill="#d6d6d6" fill-opacity=".93" fill-rule="evenodd"/>
<path d="M170.8 136.9H659.3V257H170.8Z" fill="none" stroke="#e4e4e4" stroke-opacity=".8" stroke-width="1"/>
<g transform="translate(180 195.1) scale(1 1)"><rect width="106" height="55" fill="url(#wg)"/><path d="M15.1 0Q60.5 38.9 106 17.3V0Z" fill="#00efc9"/><path d="M27 0Q66.5 21 106 3.7V0Z" fill="#00a38b"/></g>
<g transform="translate(302.1 196) scale(1 1.02)"><rect width="106" height="55" fill="url(#wg)"/><path d="M15.1 0Q60.5 38.9 106 17.3V0Z" fill="#00efc9"/><path d="M27 0Q66.5 21 106 3.7V0Z" fill="#00a38b"/></g>
<g transform="translate(424.1 196) scale(1 1.02)"><rect width="106" height="55" fill="url(#wg)"/><path d="M15.1 0Q60.5 38.9 106 17.3V0Z" fill="#00efc9"/><path d="M27 0Q66.5 21 106 3.7V0Z" fill="#00a38b"/></g>
<g transform="translate(544.2 196) scale(1 1.02)"><rect width="106" height="55" fill="url(#wg)"/><path d="M15.1 0Q60.5 38.9 106 17.3V0Z" fill="#00efc9"/><path d="M27 0Q66.5 21 106 3.7V0Z" fill="#00a38b"/></g>
<g font-family="'Liberation Sans','DejaVu Sans',sans-serif" font-size="33.4" fill="#000" stroke="#000" stroke-width=".45">
<text y="174.9"><tspan x="221.4" textLength="18.6" lengthAdjust="spacingAndGlyphs">J</tspan></text>
<text y="174.9"><tspan x="311.4" textLength="18.6" lengthAdjust="spacingAndGlyphs">J</tspan><tspan x="335.5" stroke-width="0"> </tspan><tspan x="344.6" stroke-width="0">+</tspan><tspan x="366" stroke-width="0"> </tspan><tspan x="374.2" stroke-width="0">1</tspan></text>
<text y="174.9"><tspan x="433.6" textLength="18.6" lengthAdjust="spacingAndGlyphs">J</tspan><tspan x="457" stroke-width="0"> </tspan><tspan x="466.6" stroke-width="0">+</tspan><tspan x="489" stroke-width="0"> </tspan><tspan x="499.6" font-weight="bold" stroke-width="0">2</tspan></text>
<text y="174.9"><tspan x="555.7" textLength="18.6" lengthAdjust="spacingAndGlyphs">J</tspan><tspan x="579" stroke-width="0"> </tspan><tspan x="588.8" stroke-width="0">+</tspan><tspan x="611" stroke-width="0"> </tspan><tspan x="622" font-weight="bold" stroke-width="0">3</tspan></text>
</g>
</g>
<g id="kpi-boxes" fill="#fff" stroke="#7f7f7f" stroke-width="3.4">
<rect x="1991.9" y="108.3" width="412" height="57.6" rx="10.5"/>
<rect x="1991.9" y="178.3" width="412" height="57.6" rx="10.5"/>
<rect x="1991.9" y="248.3" width="412" height="57.6" rx="10.5"/>
<rect x="561.9" y="806" width="412" height="57.6" rx="10.5"/>
<rect x="1099.9" y="806" width="412" height="57.6" rx="10.5"/>
<rect x="1609.9" y="806" width="412" height="57.6" rx="10.5"/>
</g>
</svg>
<div class="site">LHB-site-L760</div>
<div class="kpi" style="left:1990.2px;top:106.6px">Consommation: 95 kWh</div>
<div class="kpi" style="left:1990.2px;top:176.6px">P Max :  7 kW</div>
<div class="kpi" style="left:1990.2px;top:246.6px">P min : 2 kW</div>
<div class="date">samedi 31 janvier 2026</div>
<div class="kpi" style="left:560.2px;top:804.3px">Consommation: 955 kWh</div>
<div class="kpi" style="left:1098.2px;top:804.3px">P Max :  53 kW</div>
<div class="kpi" style="left:1608.2px;top:804.3px">P min : 2 kW</div>
<div class="logo"></div>
<svg width="2511" height="1415" viewBox="0 0 2511 1415" style="pointer-events:none">
<g id="g2e">
<text x="2332.2" y="1363.8" font-family="'Liberation Sans','DejaVu Sans',sans-serif" font-weight="bold" font-size="43" fill="#0a70b8" textLength="32.5" lengthAdjust="spacingAndGlyphs">G</text>
<text x="2365.6" y="1363.8" font-family="'Liberation Sans','DejaVu Sans',sans-serif" font-weight="bold" font-size="36.5" fill="#0a70b8" textLength="21" lengthAdjust="spacingAndGlyphs">2</text>
<path d="M2391.9 1324.4L2383.5 1337.6L2390.3 1339L2389.2 1363.5L2399.7 1338.4L2393.3 1336.7Z" fill="#ea5b25"/>
<path d="M2402 1338.8H2424.4L2419.8 1344.8H2397.6Z M2397.6 1348.1H2418.2L2413.8 1354.1H2393.4Z M2394.4 1357.2H2417L2412.6 1363.2H2390.2Z" fill="#f29222"/>
<text x="2393.8" y="1334.6" font-family="'Liberation Sans','DejaVu Sans',sans-serif" font-weight="bold" font-size="6.9" fill="#ea5b25" textLength="29.8" lengthAdjust="spacingAndGlyphs">FRANCE</text>
<text x="2339.6" y="1368" font-family="'Liberation Sans','DejaVu Sans',sans-serif" font-size="3.4" fill="#2a7fc0" textLength="74.5" lengthAdjust="spacingAndGlyphs">Optimisation des ressources énergétiques</text>
</g>
</svg>
</body></html>
